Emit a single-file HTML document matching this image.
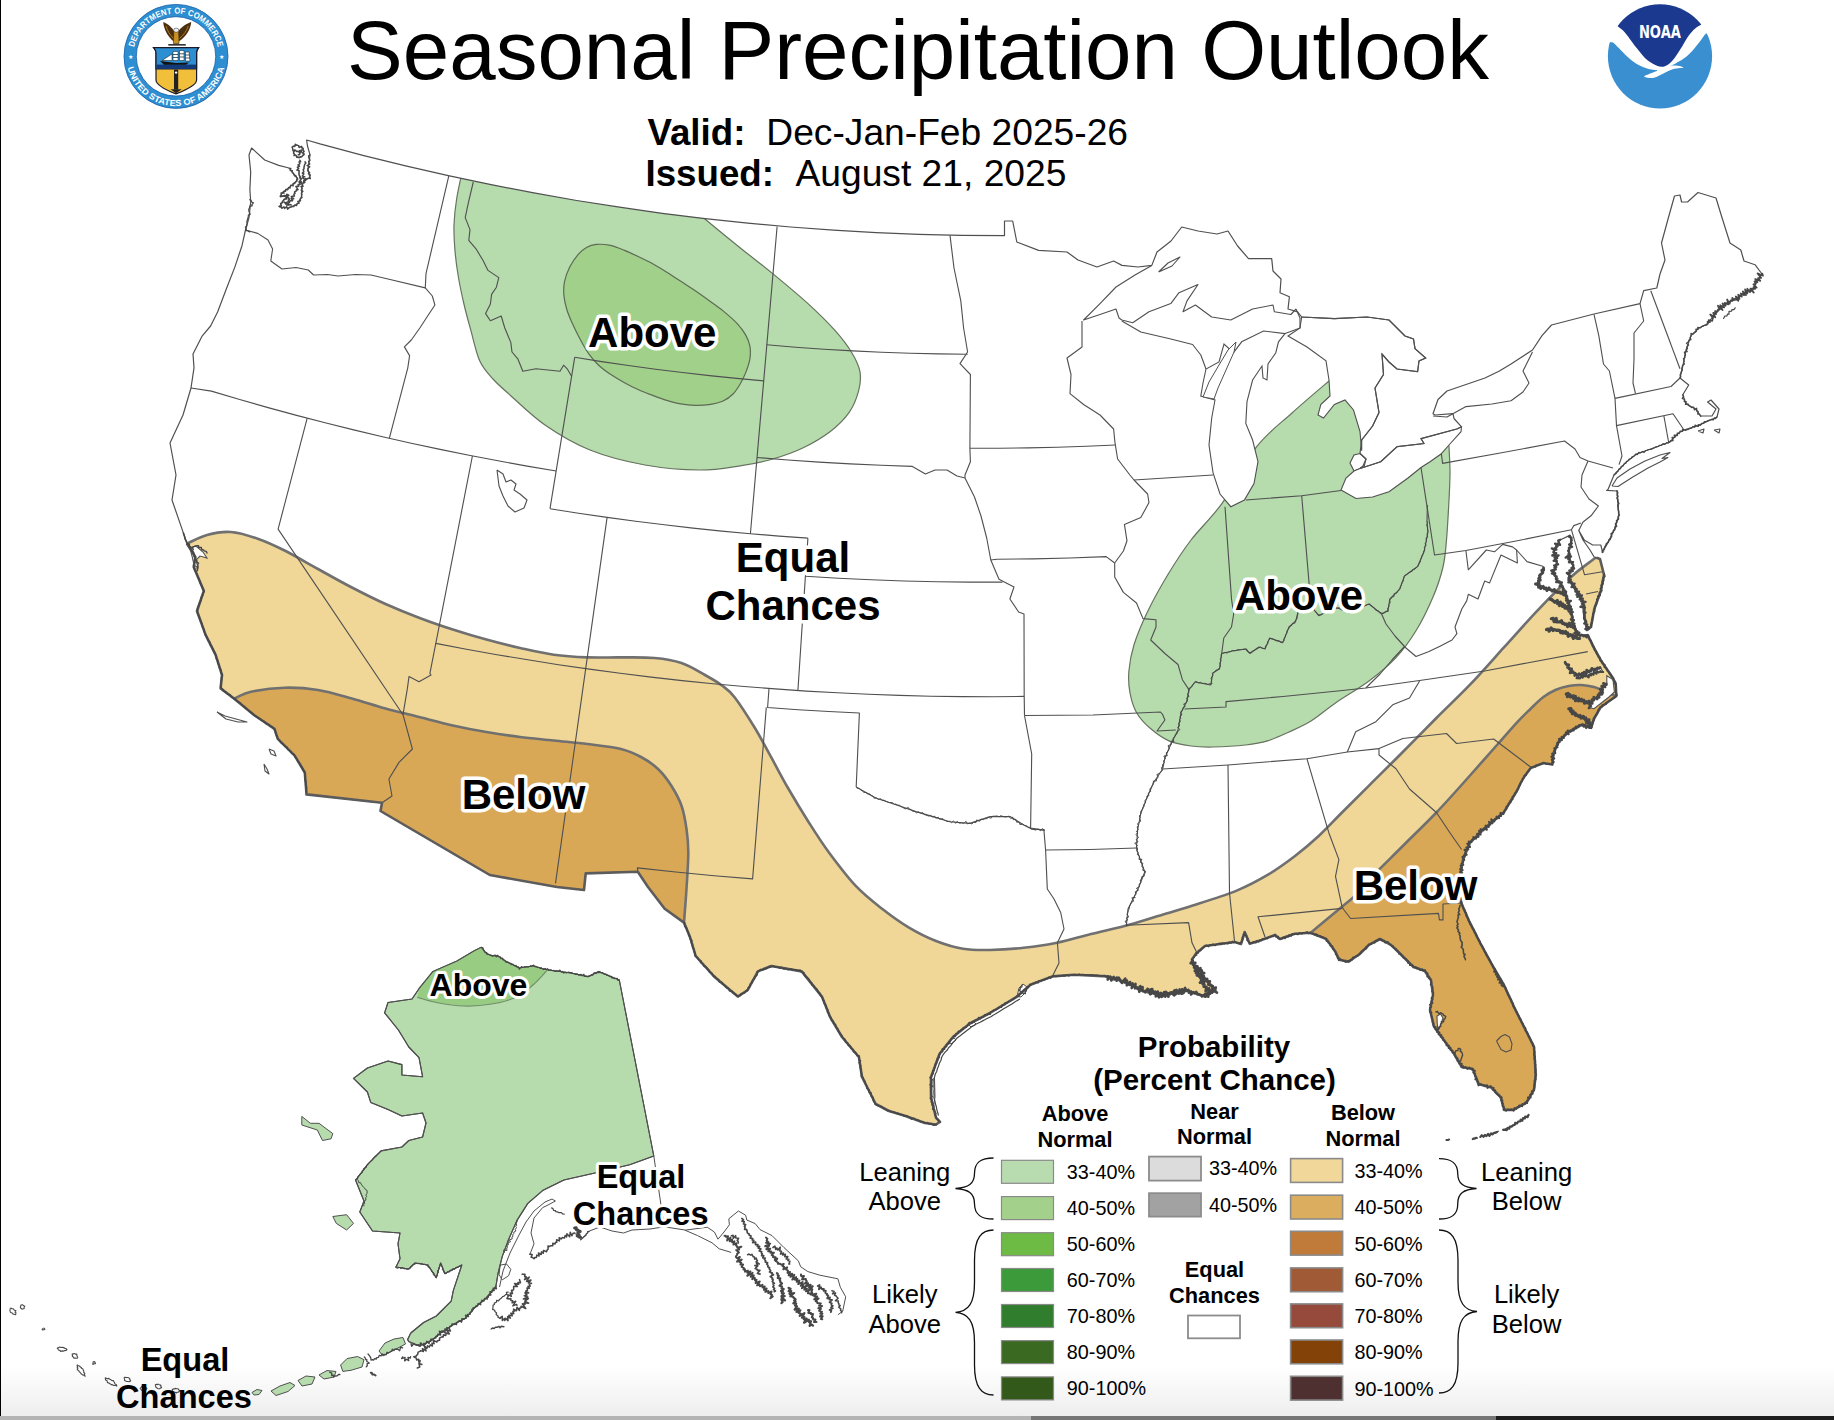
<!DOCTYPE html>
<html><head><meta charset="utf-8"><title>Seasonal Precipitation Outlook</title>
<style>html,body{margin:0;padding:0;background:#fff;}body{width:1834px;height:1420px;overflow:hidden;position:relative;font-family:"Liberation Sans",Arial,sans-serif}</style>
</head><body>
<svg width="1834" height="1420" viewBox="0 0 1834 1420" style="position:absolute;left:0;top:0;font-family:'Liberation Sans',Arial,sans-serif">
<defs>
<clipPath id="cl"><path d="M251.6,148 L264.7,160 L278.7,165.4 L289,168 L292.6,172.4 L297.9,179.3 L292.6,184.6 L282,193 L280.4,196.8 L289,195 L282,202 L279.5,207 L289,208 L297.9,203.8 L301.4,196.8 L302,186 L304.9,179 L310,178.5 L308,168.9 L310,154.9 L307.5,146 L306.6,140 L320,143.9 L362.8,155.3 L405.6,165.8 L448.3,175.6 L491.1,184.7 L533.9,192.9 L576.7,200.5 L619.5,207.2 L662.2,213.3 L705,218.6 L747.8,223.2 L790.6,227 L833.4,230.2 L876.2,232.6 L918.9,234.3 L961.7,235.3 L1004.5,235.6 L1004.5,221 L1012.7,221 L1016.8,242 L1038.6,250.4 L1067,252 L1078,260 L1097,267 L1113.6,261 L1122,265.4 L1138,267 L1151.8,265.4 L1157,252 L1171,241 L1181.7,227 L1198,231 L1217,234 L1228,231 L1237.6,246 L1248.5,258.6 L1271.7,258.6 L1273,271 L1281,279 L1280,292.7 L1289.4,296.8 L1288,309 L1297.6,311.8 L1301.7,317 L1334.4,318.6 L1367,317 L1389,320 L1405,336 L1413.5,339 L1415,348.6 L1425.7,358 L1419,361 L1417.6,371.7 L1397,369 L1389,362 L1382,354 L1383.5,374.5 L1375,388 L1379,412.6 L1372.6,426 L1361.7,440 L1360,453.5 L1366,459 L1363,466 L1360,468.5 L1380.7,461.7 L1397,446.7 L1424,443.5 L1421,438.6 L1456.8,429 L1461.5,426.8 L1454,418.5 L1453,413.7 L1435,415 L1433,413.7 L1438,399.5 L1447,391 L1485,378 L1499.4,371 L1511,364 L1532.5,350 L1542,335.6 L1551.5,325 L1594,314 L1640,303.7 L1643.7,290.7 L1656.8,288 L1660,274 L1665,260 L1661.5,243 L1668.6,217 L1674.5,196 L1680,195 L1681.6,202 L1687.5,202 L1698,192.5 L1716,198 L1721.8,217 L1730,243 L1740.8,250 L1744,261 L1755,264.7 L1762,274 L1757,281 L1752.6,290.7 L1744,293 L1736,300 L1728,302 L1719.5,309.6 L1714,315 L1707.6,323.8 L1699,328 L1691,335.6 L1686,350 L1682.8,366 L1680,378 L1688.7,385 L1682.8,394.8 L1686,404 L1695.8,409 L1700.5,416 L1712,416 L1716,409 L1707.6,402 L1711,400 L1719,409 L1717,417 L1698,425.6 L1684,430 L1679,432.7 L1669.8,442 L1650.8,449 L1636.6,454 L1624.8,463.4 L1614,475 L1608,489.5 L1606.6,490.4 L1617,491 L1618,502.7 L1618.8,515.8 L1614,530.5 L1607.4,543.6 L1602.5,551.8 L1600.8,545 L1592.7,545 L1584.5,540.3 L1578.8,530.5 L1583,540 L1590,550 L1594,556.7 L1600,559 L1604,574.7 L1600.8,591 L1594.3,609 L1591,627 L1587,630 L1584.5,617 L1582.8,600.9 L1576.3,591 L1568,578 L1573,564.9 L1568,555 L1571.4,543.6 L1569.8,535.4 L1560,540 L1553.4,550 L1556.7,561.6 L1553.4,574.7 L1560,582.9 L1564.9,591 L1568,600.9 L1571.4,612 L1573,623.8 L1578,635 L1587.8,635.2 L1594,647.9 L1601.7,661.8 L1610.6,674.5 L1615.7,683.4 L1616.3,696 L1609.3,701 L1600.4,707.5 L1594,718.9 L1591,727.8 L1581.4,725 L1568.7,731.6 L1558.6,741.7 L1553.5,753 L1552.3,764.5 L1543.4,763 L1530.7,768 L1523,778.5 L1516.8,791 L1503.7,812.5 L1483.5,829 L1470,842.8 L1463,859.6 L1460,876.4 L1461.7,904 L1469,920.8 L1480.2,943 L1491.3,963.4 L1504.3,985.7 L1515.4,1009.8 L1526.6,1032 L1534,1046.9 L1535.8,1074.7 L1534,1089.5 L1526.6,1102.5 L1513.6,1109.9 L1504.3,1109.9 L1500.6,1097 L1491.3,1087.6 L1478.4,1084 L1472.8,1069 L1461.7,1067 L1454.3,1054 L1443,1039 L1433.9,1026.5 L1430,1009.8 L1433,995 L1431,980 L1424.6,970.8 L1413.5,967 L1402.4,956 L1391,944.9 L1380,939 L1369,944.9 L1359.7,954 L1348.6,961.6 L1339,959.7 L1335.6,952 L1326.3,939 L1310.6,932.8 L1294.8,933.8 L1280,939 L1275,935 L1261.5,940 L1249.7,943.7 L1244.7,932 L1241,944 L1234.6,942 L1220,944 L1205,946 L1195.9,953.8 L1192,959.6 L1198.7,976 L1208,982 L1215.5,990 L1205.4,996.6 L1185,990 L1165,995 L1144.8,991.6 L1128,983 L1107.8,976.4 L1074,974.7 L1052.3,976.4 L1030.4,984.8 L1017,996.6 L990,1013 L969.9,1023.5 L953,1037 L939.6,1053.8 L931,1077 L931,1097.5 L936,1117.7 L940,1122 L935.8,1124.5 L925,1123 L904.8,1115.8 L889,1111 L875.7,1104 L862,1077 L858.9,1057 L842,1037 L830,1016.8 L821.9,996.6 L801.7,971.4 L771.4,966 L757.9,971.4 L747.8,990 L737.8,996.6 L714,976.4 L695.7,956 L690,937 L684,922.6 L664.7,908.8 L648,887 L637.8,871.7 L585.7,873.4 L584,890 L557,887 L489.8,875 L380.5,811 L382,802.8 L306.4,794.4 L306.4,792.7 L304.8,772.5 L294.7,755.7 L277.8,738.9 L274.5,728.8 L254,715 L234,698.5 L220.6,688.4 L222,675 L215.6,654.8 L205.5,634.6 L197,611 L203.8,590.8 L193.7,567 L195.4,557 L187,543.7 L183.6,533.6 L172,500 L176,475 L170,443 L183,415 L191,388 L194,367.8 L193,353.9 L201.9,336.4 L210.6,326 L217.6,312 L226.3,289 L235,266.6 L242,245.7 L245.5,230 L249,217.7 L250.7,202 L249.9,189.8 L250.7,172 L249,155.0Z"/></clipPath>
<clipPath id="ct1"><path d="M170.0,552.0 C172.8,550.6 180.8,546.5 187.0,543.7 C193.2,540.9 199.7,537.0 207.0,535.0 C214.3,533.0 222.2,531.4 230.7,532.0 C239.1,532.6 248.7,535.6 257.7,538.7 C266.7,541.8 274.6,545.5 284.6,550.5 C294.7,555.5 306.8,562.8 318.0,569.0 C329.2,575.2 340.6,581.7 351.9,587.5 C363.1,593.3 374.3,599.0 385.5,604.0 C396.7,609.0 407.8,613.5 419.0,617.7 C430.2,622.0 441.6,625.9 452.8,629.5 C464.0,633.1 475.2,636.5 486.4,639.6 C497.6,642.7 508.8,645.5 520.0,648.0 C531.2,650.5 542.5,653.2 553.7,654.8 C564.9,656.4 576.2,657.0 587.4,657.4 C598.6,657.8 609.8,657.3 621.0,657.4 C632.2,657.5 644.5,657.1 654.6,658.0 C664.7,658.9 673.1,660.2 681.5,663.0 C689.9,665.8 698.2,671.2 705.0,675.0 C711.8,678.8 717.1,681.8 722.0,685.5 C726.9,689.2 729.0,690.0 734.4,697.0 C739.8,704.0 748.4,717.4 754.6,727.5 C760.8,737.6 765.8,747.6 771.4,757.7 C777.0,767.8 781.8,777.3 788.0,788.0 C794.2,798.7 801.6,811.0 808.4,821.7 C815.2,832.4 820.8,841.4 828.6,852.0 C836.5,862.6 846.5,876.1 855.5,885.6 C864.5,895.1 873.5,902.0 882.4,909.0 C891.3,916.0 900.1,922.3 909.0,927.6 C917.9,932.9 927.0,937.5 936.0,941.0 C945.0,944.5 954.0,947.3 963.0,948.8 C972.0,950.3 979.9,950.2 990.0,950.0 C1000.1,949.8 1012.5,949.0 1023.7,947.8 C1034.9,946.6 1045.8,945.1 1057.0,942.8 C1068.2,940.5 1079.7,936.8 1091.0,934.0 C1102.3,931.2 1113.4,929.0 1124.6,926.0 C1135.8,923.0 1146.8,919.4 1158.0,916.0 C1169.2,912.6 1178.9,910.0 1192.0,905.8 C1205.1,901.6 1224.0,895.8 1236.7,890.6 C1249.4,885.4 1258.3,880.5 1268.0,874.7 C1277.7,868.9 1286.5,862.5 1295.0,856.0 C1303.5,849.5 1310.9,843.2 1318.7,836.0 C1326.5,828.8 1333.6,820.9 1342.0,812.5 C1350.4,804.1 1358.9,795.7 1369.0,785.6 C1379.1,775.5 1391.6,763.3 1402.8,752.0 C1414.0,740.7 1425.2,729.2 1436.4,718.0 C1447.6,706.8 1458.8,696.4 1470.0,684.7 C1481.2,673.0 1492.5,660.1 1503.7,647.7 C1514.9,635.4 1526.2,622.4 1537.4,610.6 C1548.6,598.8 1561.5,585.7 1571.0,577.0 C1580.5,568.3 1585.5,565.5 1594.5,558.5 C1603.5,551.5 1619.9,538.9 1625.0,535.0 L1720,535 L1720,1220 L100,1220 L100,552Z"/></clipPath>
<linearGradient id="bg" x1="0" y1="0" x2="0" y2="1"><stop offset="0" stop-color="#fff"/><stop offset="1" stop-color="#eeeeee"/></linearGradient>
</defs>
<rect width="1834" height="1420" fill="#fff"/>
<rect x="0" y="1366" width="1834" height="50" fill="url(#bg)"/>
<g clip-path="url(#cl)">
<path d="M463.0,168.0 C461.9,173.1 458.2,189.1 456.7,198.5 C455.2,207.9 454.3,216.0 454.0,224.7 C453.7,233.4 454.3,242.2 455.0,250.9 C455.7,259.6 456.9,268.3 458.4,277.0 C459.8,285.7 461.7,294.3 463.7,303.0 C465.7,311.7 467.9,319.8 470.6,329.4 C473.3,339.0 476.0,352.5 479.7,360.8 C483.4,369.1 487.9,373.3 493.0,379.0 C498.1,384.7 501.3,387.3 510.0,395.0 C518.7,402.7 531.7,415.8 545.0,425.0 C558.3,434.2 573.3,443.3 590.0,450.0 C606.7,456.7 626.7,461.7 645.0,465.0 C663.3,468.3 684.2,469.9 700.0,470.0 C715.8,470.1 727.9,467.6 740.0,465.8 C752.1,464.0 762.2,462.0 772.7,459.0 C783.2,456.0 793.2,452.6 802.7,448.0 C812.2,443.4 822.3,437.6 830.0,431.7 C837.7,425.8 844.2,419.4 849.0,412.6 C853.8,405.8 856.8,397.6 858.6,390.8 C860.4,384.0 861.1,378.2 860.0,371.8 C858.9,365.4 855.9,359.5 851.8,352.7 C847.7,345.9 842.7,339.1 835.4,330.9 C828.1,322.7 818.5,313.2 808.0,303.6 C797.5,294.1 784.0,282.9 772.7,273.6 C761.4,264.3 751.3,256.8 740.0,247.7 C728.7,238.6 713.7,226.4 705.0,219.0 C696.3,211.6 690.8,205.7 688.0,203.0Z" fill="#b6dbad" stroke="#66735f" stroke-width="1.2"/>
<path d="M596.3,244.4 C600.3,244.1 605.7,244.4 610.4,245.4 C615.1,246.4 619.8,248.5 624.5,250.4 C629.2,252.3 633.9,254.5 638.6,256.7 C643.3,258.9 648.0,261.1 652.7,263.7 C657.4,266.3 662.1,269.3 666.8,272.2 C671.5,275.1 676.1,278.2 680.8,281.3 C685.5,284.4 690.2,287.3 694.9,290.5 C699.6,293.7 704.3,297.0 709.0,300.4 C713.7,303.8 718.4,307.0 723.1,310.9 C727.8,314.8 733.5,319.6 737.2,323.6 C741.0,327.6 743.5,331.1 745.6,334.9 C747.7,338.6 749.2,342.1 749.9,346.1 C750.6,350.1 750.6,354.3 749.9,358.8 C749.2,363.3 747.2,368.7 745.6,372.9 C744.0,377.1 742.1,380.7 740.0,384.2 C737.9,387.7 735.8,391.2 733.0,394.0 C730.2,396.8 727.1,399.2 723.1,401.0 C719.1,402.8 713.7,403.9 709.0,404.6 C704.3,405.3 699.6,405.4 694.9,405.3 C690.2,405.2 685.5,404.7 680.8,403.9 C676.1,403.1 671.5,401.8 666.8,400.4 C662.1,399.0 657.4,397.2 652.7,395.4 C648.0,393.6 643.3,391.9 638.6,389.8 C633.9,387.7 629.2,385.3 624.5,382.7 C619.8,380.1 614.6,377.1 610.4,374.3 C606.2,371.5 602.7,369.1 599.2,365.8 C595.7,362.5 592.4,358.8 589.3,354.6 C586.2,350.4 583.6,345.7 580.8,340.5 C578.0,335.3 574.7,328.8 572.4,323.6 C570.1,318.4 568.2,314.2 566.8,309.5 C565.4,304.8 564.3,300.1 563.9,295.4 C563.5,290.7 563.6,286.0 564.6,281.3 C565.6,276.6 567.4,271.8 569.6,267.3 C571.8,262.9 575.2,257.9 578.0,254.6 C580.8,251.3 583.5,249.2 586.5,247.5 C589.5,245.8 592.3,244.8 596.3,244.4Z" fill="#a0d08a" stroke="#5d6b55" stroke-width="1.2"/>
<path d="M1329.0,381.0 C1322.8,386.3 1304.0,402.1 1292.0,413.0 C1280.0,423.9 1268.3,431.8 1256.7,446.7 C1245.1,461.6 1233.5,487.1 1222.6,502.6 C1211.6,518.1 1199.9,528.3 1191.0,540.0 C1182.1,551.7 1176.3,560.8 1169.0,572.8 C1161.7,584.8 1153.2,600.0 1147.4,612.0 C1141.6,624.0 1137.1,635.0 1134.0,644.8 C1130.9,654.6 1129.6,663.0 1128.9,671.0 C1128.2,679.0 1128.7,685.9 1130.0,692.8 C1131.3,699.7 1133.2,706.7 1136.5,712.5 C1139.8,718.3 1144.2,723.1 1149.6,727.8 C1155.0,732.5 1162.1,737.9 1169.0,740.9 C1175.9,743.9 1183.7,745.0 1191.0,746.0 C1198.3,747.0 1203.9,747.2 1213.0,747.0 C1222.1,746.8 1236.6,746.0 1245.7,745.0 C1254.8,744.0 1260.3,743.1 1267.5,740.9 C1274.7,738.7 1281.8,735.3 1289.0,732.0 C1296.2,728.7 1303.2,725.8 1311.0,721.0 C1318.8,716.2 1325.8,709.7 1335.5,703.0 C1345.2,696.3 1358.9,688.5 1369.0,681.0 C1379.1,673.5 1388.2,666.1 1396.0,657.7 C1403.8,649.3 1409.8,640.9 1416.0,630.8 C1422.2,620.7 1428.5,607.6 1433.0,597.0 C1437.5,586.4 1440.8,576.5 1443.0,567.0 C1445.2,557.5 1445.5,551.2 1446.5,540.0 C1447.5,528.8 1448.4,511.2 1449.0,500.0 C1449.6,488.8 1450.0,481.5 1450.0,472.6 C1450.0,463.7 1449.2,451.0 1449.0,446.7 L1447,436 L1425,420 L1390,395 L1360,372Z" fill="#b6dbad" stroke="#66735f" stroke-width="1.2"/>
<path d="M170.0,552.0 C172.8,550.6 180.8,546.5 187.0,543.7 C193.2,540.9 199.7,537.0 207.0,535.0 C214.3,533.0 222.2,531.4 230.7,532.0 C239.1,532.6 248.7,535.6 257.7,538.7 C266.7,541.8 274.6,545.5 284.6,550.5 C294.7,555.5 306.8,562.8 318.0,569.0 C329.2,575.2 340.6,581.7 351.9,587.5 C363.1,593.3 374.3,599.0 385.5,604.0 C396.7,609.0 407.8,613.5 419.0,617.7 C430.2,622.0 441.6,625.9 452.8,629.5 C464.0,633.1 475.2,636.5 486.4,639.6 C497.6,642.7 508.8,645.5 520.0,648.0 C531.2,650.5 542.5,653.2 553.7,654.8 C564.9,656.4 576.2,657.0 587.4,657.4 C598.6,657.8 609.8,657.3 621.0,657.4 C632.2,657.5 644.5,657.1 654.6,658.0 C664.7,658.9 673.1,660.2 681.5,663.0 C689.9,665.8 698.2,671.2 705.0,675.0 C711.8,678.8 717.1,681.8 722.0,685.5 C726.9,689.2 729.0,690.0 734.4,697.0 C739.8,704.0 748.4,717.4 754.6,727.5 C760.8,737.6 765.8,747.6 771.4,757.7 C777.0,767.8 781.8,777.3 788.0,788.0 C794.2,798.7 801.6,811.0 808.4,821.7 C815.2,832.4 820.8,841.4 828.6,852.0 C836.5,862.6 846.5,876.1 855.5,885.6 C864.5,895.1 873.5,902.0 882.4,909.0 C891.3,916.0 900.1,922.3 909.0,927.6 C917.9,932.9 927.0,937.5 936.0,941.0 C945.0,944.5 954.0,947.3 963.0,948.8 C972.0,950.3 979.9,950.2 990.0,950.0 C1000.1,949.8 1012.5,949.0 1023.7,947.8 C1034.9,946.6 1045.8,945.1 1057.0,942.8 C1068.2,940.5 1079.7,936.8 1091.0,934.0 C1102.3,931.2 1113.4,929.0 1124.6,926.0 C1135.8,923.0 1146.8,919.4 1158.0,916.0 C1169.2,912.6 1178.9,910.0 1192.0,905.8 C1205.1,901.6 1224.0,895.8 1236.7,890.6 C1249.4,885.4 1258.3,880.5 1268.0,874.7 C1277.7,868.9 1286.5,862.5 1295.0,856.0 C1303.5,849.5 1310.9,843.2 1318.7,836.0 C1326.5,828.8 1333.6,820.9 1342.0,812.5 C1350.4,804.1 1358.9,795.7 1369.0,785.6 C1379.1,775.5 1391.6,763.3 1402.8,752.0 C1414.0,740.7 1425.2,729.2 1436.4,718.0 C1447.6,706.8 1458.8,696.4 1470.0,684.7 C1481.2,673.0 1492.5,660.1 1503.7,647.7 C1514.9,635.4 1526.2,622.4 1537.4,610.6 C1548.6,598.8 1561.5,585.7 1571.0,577.0 C1580.5,568.3 1585.5,565.5 1594.5,558.5 C1603.5,551.5 1619.9,538.9 1625.0,535.0 L1720,535 L1720,1220 L100,1220 L100,552Z" fill="#f0d798" stroke="#707070" stroke-width="2.6"/>
<path d="M215.0,706.0 C218.2,704.8 228.0,700.9 234.0,698.5 C240.0,696.1 242.6,693.6 251.0,691.8 C259.4,690.0 273.4,688.0 284.6,687.7 C295.8,687.4 306.8,688.2 318.0,690.0 C329.2,691.8 340.6,695.4 351.9,698.5 C363.1,701.6 374.3,705.5 385.5,708.6 C396.7,711.7 407.8,714.2 419.0,717.0 C430.2,719.8 441.6,722.9 452.8,725.4 C464.0,727.9 475.2,730.1 486.4,732.0 C497.6,733.9 508.8,735.6 520.0,737.0 C531.2,738.4 542.5,739.3 553.7,740.5 C564.9,741.7 576.2,742.6 587.4,744.0 C598.6,745.4 612.1,746.8 621.0,749.0 C629.9,751.2 634.8,753.7 641.0,757.0 C647.2,760.3 652.9,764.2 658.0,769.0 C663.1,773.8 667.6,779.8 671.5,786.0 C675.4,792.2 679.1,798.7 681.6,806.0 C684.1,813.3 685.5,821.9 686.6,829.7 C687.7,837.5 688.3,843.5 688.3,853.0 C688.3,862.5 687.3,875.4 686.6,887.0 C685.9,898.6 684.8,912.1 684.0,922.6 C683.2,933.1 682.3,945.4 682.0,950.0 L682,980 L180,980 L180,706Z" fill="#d9a857" stroke="#707070" stroke-width="2.6"/>
<path d="M1298.0,944.0 C1300.1,942.1 1303.3,939.0 1310.6,932.8 C1317.9,926.6 1334.8,912.7 1342.0,906.7 C1349.2,900.7 1349.5,901.2 1354.0,896.7 C1358.5,892.2 1360.9,888.2 1369.0,879.8 C1377.1,871.3 1391.6,857.2 1402.8,846.0 C1414.0,834.8 1425.2,824.2 1436.4,812.5 C1447.6,800.8 1459.9,786.8 1470.0,775.5 C1480.1,764.2 1489.0,754.0 1497.0,745.0 C1505.0,736.0 1512.4,727.4 1518.0,721.4 C1523.6,715.4 1526.5,712.8 1530.7,708.7 C1534.9,704.6 1539.2,700.2 1543.4,697.0 C1547.6,693.8 1551.8,691.5 1556.0,689.7 C1560.2,687.9 1564.5,686.8 1568.7,686.0 C1572.9,685.2 1577.2,684.8 1581.4,685.0 C1585.6,685.2 1590.2,686.0 1594.0,687.0 C1597.8,688.0 1598.8,688.8 1604.0,691.0 C1609.2,693.2 1621.5,698.5 1625.0,700.0 L1660,700 L1660,1220 L1298,1220Z" fill="#d9a857" stroke="#707070" stroke-width="2.6"/>
</g>
<path d="M1285,333.6 L1263.5,331 L1241.7,341.8 L1233.5,352.7 L1224,344 L1219,362 L1206,369 L1203,383 L1200.8,396 L1215,400 L1211.7,418 L1209,445 L1213,472.6 L1220,494 L1230.8,506.7 L1244.4,500 L1254,483.5 L1258,461.7 L1252.6,440 L1245.8,423.5 L1247,401.7 L1252.6,380 L1262,366 L1263,378 L1267,380 L1268,364 L1275.8,352.7 L1278.5,341.8Z" fill="#fff" stroke="#505050" stroke-width="1.1"/>
<path d="M1288,336 L1307,347 L1326,360.8 L1329,380 L1330,396 L1320.8,404.5 L1318,415 L1323.5,418 L1334.4,404.5 L1345,400 L1353.5,410 L1360,431.7 L1361.7,450.8 L1361.7,440 L1372.6,426 L1379,412.6 L1375,388 L1383.5,374.5 L1382,354 L1389,362 L1397,369 L1417.6,371.7 L1419,361 L1425.7,358 L1415,348.6 L1413.5,339 L1405,336 L1389,320 L1367,317 L1334.4,318.6 L1301.7,317 L1300,328.0Z" fill="#fff" stroke="#505050" stroke-width="1.1"/>
<path d="M1360,453.5 L1366,459 L1364,467 L1354,471 L1350,463 L1354,455.0Z" fill="#fff" stroke="#505050" stroke-width="1.1"/>
<path d="M1341,490 L1346,478 L1354,471 L1360,468.5 L1380.7,461.7 L1397,446.7 L1424,443.5 L1421,438.6 L1456.8,429 L1461.5,426.8 L1461,431.7 L1449,445 L1441,454 L1430,461.7 L1421,467.5 L1408,478 L1389,491.7 L1372.6,497 L1356,498.5Z" fill="#fff" stroke="#505050" stroke-width="1.1"/>
<path d="M1576.4,675.8 L1585,673 L1594,668.8 L1600.5,667.5 L1603,672 L1596.7,672 L1588,675.8 L1576.4,678.3Z" fill="#fff" stroke="#505050" stroke-width="1.1"/>
<path d="M1606.8,675.8 L1613,679.6 L1614.4,692 L1609,697 L1600.4,703.7 L1594,708.7 L1589,707.5 L1590,702 L1599,696 L1601.7,688.5 L1606.8,683.4Z" fill="#fff" stroke="#505050" stroke-width="1.1"/>
<path d="M190,548 L196,546 L203,552 L207,558 L200,556 L196,560 L198,568 L194,565 L192,556.0Z" fill="#fff" stroke="#505050" stroke-width="1.1"/>
<path d="M1437,1016 L1440.5,1014 L1443,1018 L1440.5,1025 L1438,1030 L1437.2,1023.0Z" fill="#fff" stroke="#505050" stroke-width="1.1"/>
<path d="M1203,397 L1209,382 L1219,365 L1228,350 L1236,342 L1234,352 L1226,370 L1218,388 L1214,399.0Z" fill="#fff" stroke="#505050" stroke-width="1"/>
<path d="M1017,996.6 L1019,988 L1023,984 L1027,987 L1025,993 L1021,997.0Z" fill="#fff" stroke="#505050" stroke-width="1"/>
<path d="M968,1024 L973,1021 L976,1024 L971,1027.0Z" fill="#fff" stroke="#505050" stroke-width="1"/>
<path d="M949,1041 L953,1037 L956,1040 L951,1044.0Z" fill="#fff" stroke="#505050" stroke-width="1"/>
<path d="M932,1080 L934.5,1078 L935,1097 L933,1110 L931.5,1097.0Z" fill="#fff" stroke="#505050" stroke-width="1"/>
<g fill="none" stroke="#505050" stroke-width="1.12" stroke-linejoin="round">
<path d="M245.5,230 L257.7,233.4 L268,240 L272.6,249 L270.8,261 L282,269 L296,267.5 L308.3,270 L313.6,275 L327.5,274.5 L338,276 L355.5,274.5 L371,275 L386.9,278.8 L425.3,287.9"/>
<path d="M448.8,175.8 L426,273.6 L425.3,287.9 L432.3,296 L434.9,305 L427,317 L420,327.7 L411.3,340 L404.4,346.9 L409.6,355.6 L407.8,367.8 L389.3,438.3"/>
<path d="M191,388 L211.4,391.1 L239.7,399.5 L268.1,407.6 L296.6,415.4 L325.1,422.8 L353.7,429.9 L382.5,436.8 L411.2,443.3 L440.1,449.4 L469,455.3 L498,460.8 L527.1,466.1 L556.2,471.0"/>
<path d="M307.2,418.2 L278.1,529.1 L403,714.7"/>
<path d="M472.4,456 L435.8,643.4 L429.9,673.4 L431,675 L419,681.7 L409,676.6 L407.4,688.4 L403,714.7 L412.4,749 L399,762.4 L388.9,779 L392,796 L382,802.8"/>
<path d="M473.3,182 L468.8,200.8 L465.2,217.6 L470,229.6 L468.8,240.4 L476,248.8 L483.2,260.8 L488,270.4 L498.8,277.6 L496.4,287.2 L491.6,294.4 L490.4,304 L485.6,313.6 L490.4,320.8 L501.2,316 L504.8,328 L510.8,342.4 L512,352 L518,359.2 L522.8,371.2 L536,368.8 L548,370 L560,371.2 L563.6,365.2 L567.2,368.8 L571.6,376.3"/>
<path d="M574.7,357.3 L550,508.7"/>
<path d="M574.7,357.3 L601.6,361.6 L628.5,365.5 L655.5,369.2 L682.5,372.5 L709.5,375.6 L736.6,378.4 L763.7,380.9"/>
<path d="M550,508.7 L578.5,513.2 L607.1,517.4 L635.7,521.3 L664.3,524.8 L693,528.1 L721.7,531.1 L750.4,533.7 L779.1,536.1 L807.9,538.1"/>
<path d="M777.1,226.6 L763.7,380.9 L750.4,533.7"/>
<path d="M607.1,517.4 L585.7,668.6 L555.5,883.3"/>
<path d="M435.8,643.4 L466.4,649.2 L497,654.7 L527.8,659.8 L558.5,664.7 L589.4,669.1 L620.2,673.3 L651.2,677.1 L682.1,680.6 L713.1,683.7 L744.1,686.5 L775.2,688.9 L806.3,691.1 L837.4,692.8 L868.5,694.3 L899.6,695.4 L930.8,696.2 L961.9,696.6 L993.1,696.7 L1024.2,696.4"/>
<path d="M807.9,538.1 L805.4,576.3 L797.9,690.5"/>
<path d="M805.4,576.3 L838.2,578.2 L871.1,579.8 L903.9,581 L936.8,581.8 L969.6,582.1 L1002.5,582.1"/>
<path d="M766.8,344.8 L795.5,347.2 L824.1,349.2 L852.8,350.9 L881.5,352.2 L910.2,353.2 L938.9,353.9 L967.6,354.3"/>
<path d="M757,457.5 L788,460 L819.1,462.1 L850.2,463.9 L881.3,465.3 L912.4,466.4 L925.4,474 L935,470 L947,470 L957,476 L965,478.0"/>
<path d="M769,688.5 L767.6,707.5 L767.6,707.5 L798.2,709.7 L828.8,711.5 L859.4,713 L856.2,787.0"/>
<path d="M766.3,707.4 L752.6,878.9 L714.2,875.7 L675.8,872 L637.4,867.9 L637.8,871.7"/>
<path d="M856.2,787 L875.7,798 L895.9,804.8 L916,811.6 L932.9,816.6 L949.7,821.7 L969.9,823.4 L990,816.6 L1010,816.6 L1023.7,825 L1031.7,829 L1043.9,830 L1045.6,850.0"/>
<path d="M950,235.4 L954,268 L960.8,300.9 L963.6,328 L967.6,352 L960,363.6 L970.4,374.5 L969.9,448.2 L970.4,461.7 L965,475 L965,478.0"/>
<path d="M969.9,448.2 L999.1,448.2 L1028.2,447.9 L1057.3,447.3 L1086.4,446.3 L1115.5,445.0"/>
<path d="M965,478 L974.5,497 L981,516 L986.7,538 L990.8,560 L999,579.3 L1014,587 L1009.9,599 L1018.6,612 L1024,614 L1024.2,696.4 L1024.5,715.5"/>
<path d="M990.8,560 L996.8,559.2 L1033.3,558.9 L1069.7,558 L1106.2,556.6 L1114.7,563.0"/>
<path d="M1082,321 L1082,347 L1067,358 L1071,374.5 L1070,393.6 L1083.6,404.5 L1100,415 L1113.6,429 L1114.9,442 L1117.6,459 L1129.9,475 L1134,480 L1147.6,494 L1149,502.6 L1140.8,517.6 L1124.4,524.4 L1127,540.8 L1123.4,551 L1114.7,563 L1114.7,577 L1123.4,592.4 L1136.5,603 L1143,618.6 L1156,619.7 L1156,627 L1150.7,640 L1164.9,653.5 L1178,664.5 L1182.4,679.7 L1188.9,689.6 L1186.7,701.6 L1181,712.5 L1178,730 L1171.4,743 L1164.9,758 L1162.7,769 L1154,782 L1147,797.6 L1140.9,813 L1137.6,830 L1136.4,848.6 L1144.8,872 L1138,889 L1128,909 L1126.3,926.0"/>
<path d="M1134,480 L1213,475.0"/>
<path d="M1121.8,321 L1140.8,332 L1170.8,339 L1192.6,344.5 L1200.8,355 L1206,369.0"/>
<path d="M1225,506.7 L1231.5,599 L1233.7,614 L1231.5,627 L1223.8,638 L1221.7,653.5"/>
<path d="M1427.4,505 L1427,521 L1428,532 L1424,551.8 L1417.6,566.5 L1404.5,576 L1399.6,589.4 L1389.8,599 L1388,610.7 L1381.6,614 L1369,604 L1349,612.3 L1335.5,607.3 L1318.7,615.7 L1311,606 L1298,612 L1295.9,620.8 L1289,627 L1282.8,642.6 L1269.7,638 L1265,649 L1258.8,647 L1250,653.5 L1245.7,649 L1232.6,651 L1221.7,653.5 L1219.5,668.8 L1213,673 L1210.7,685 L1195,682 L1189,689.6"/>
<path d="M1301.7,495.8 L1311,606.0"/>
<path d="M1245.8,500 L1301.7,495.8 L1341,490.5"/>
<path d="M1381.6,614 L1386,624 L1395,636 L1404.5,646.5 L1392,660 L1380,674 L1365.8,688.0"/>
<path d="M1184.5,709 L1226,707 L1226,701.6 L1283,696.5 L1340,690.7 L1365.8,688 L1419.6,680.5 L1484.7,671 L1527,663 L1587.8,651.6"/>
<path d="M1024.5,715.5 L1093,715 L1160.5,712 L1162.7,714.7 L1164.9,720 L1157,731 L1175.8,730.0"/>
<path d="M1024.5,715.5 L1031.7,754 L1030.6,828 L1044.8,830.4"/>
<path d="M1045.6,850 L1090,849.5 L1136.4,848.0"/>
<path d="M1045.6,850 L1047.3,889 L1054,899 L1060.7,912.5 L1064,929 L1057.4,942.8 L1059,963 L1052.3,976.4"/>
<path d="M1126.3,925.3 L1188.6,922.6 L1192,942.8 L1197,953.0"/>
<path d="M1162.7,769 L1228,765 L1306.9,758.7 L1347.3,752 L1379,748.6"/>
<path d="M1228,765 L1229.5,893 L1234.6,942.0"/>
<path d="M1306.9,758.7 L1328.8,832.7 L1338.9,859.6 L1335.5,876.4 L1342,906.7 L1344,910.0"/>
<path d="M1265,937 L1258,916.8 L1342,908.4"/>
<path d="M1344,910 L1350.6,918.5 L1438.5,913.4 L1439.4,919.9 L1443,919.9 L1443,904 L1460.8,903.0"/>
<path d="M1379,748.6 L1379,755 L1396,768.8 L1409.5,789 L1436.4,812.5 L1449.9,832.7 L1461.6,849.5"/>
<path d="M1379,748.6 L1402.8,738.5 L1446.5,733.5 L1456.6,743.5 L1493.6,739 L1530.6,767.0"/>
<path d="M1347.3,752 L1355.7,731.8 L1375.9,721.7 L1392.7,704.8 L1409.5,698 L1419.6,681.0"/>
<path d="M1404.5,646.7 L1416,656.5 L1429,651.6 L1440.5,645.9 L1452,640 L1456.9,633.6 L1455,627 L1461.8,609 L1466.7,600.9 L1468.3,594.3 L1478,599 L1484.7,581 L1489.6,582.9 L1501,555 L1517.4,563 L1516.6,550.0"/>
<path d="M1421,467.5 L1434.5,555 L1465.9,550.5 L1516,541 L1571.4,529.7"/>
<path d="M1465.9,550.5 L1468.3,569.8 L1486.3,550 L1494.5,551.8 L1502.7,544.4 L1512.5,546.9 L1516.6,550 L1527,561.6 L1543.6,566.5"/>
<path d="M1581,523 L1573.8,525.6 L1571.4,529.7 L1584.5,574.7 L1604,571.5"/>
<path d="M1586,594 L1598,591.5"/>
<path d="M1588,461 L1582,475 L1581,487 L1589,499 L1598.4,506 L1591,515.8 L1582.8,522.3 L1578.8,530.5"/>
<path d="M1441.4,454 L1442.6,463.4 L1503,452.5 L1564.5,441 L1575,449 L1580,457.5 L1588,461 L1613,468.0"/>
<path d="M1594,314.4 L1598.8,335.6 L1603.5,364 L1609.4,371 L1615,398.4 L1616.5,425.6 L1622,456 L1619,464.6"/>
<path d="M1640,303.7 L1643.7,321 L1634,333 L1634,359 L1633,383 L1635.5,393.6"/>
<path d="M1650.8,290.7 L1680,368.8"/>
<path d="M1615,398.4 L1671,386.5 L1680,378.0"/>
<path d="M1616.5,425.6 L1673,413.7 L1684,430.0"/>
<path d="M1663.9,416 L1668.6,442.0"/>
<path d="M1151.8,265.4 L1135,275 L1116,287 L1100,303.6 L1083.6,320 L1100,314.5 L1116,309 L1119,318 L1121.8,320 L1132.7,322.7 L1149,311.8 L1170.8,303.6 L1179,292.7 L1198,284.5 L1187,300.9 L1183,311.8 L1195.4,305 L1211.7,317 L1230.8,320 L1252.6,309 L1273,305 L1274.4,311.8 L1290.8,314.5 L1296,309.0"/>
<path d="M1296,309 L1300,318 L1300,328 L1292,331 L1285,333.6"/>
<path d="M1158.6,272 L1168,263 L1180,257 L1172,266 L1158.6,272.0"/>
<path d="M1433,416 L1447,417 L1466,406.6 L1492,404 L1511,400.7 L1523,392 L1529,383 L1523,371 L1532.5,352.0"/>
<path d="M1612,486 L1617,478 L1630,469 L1645,461 L1660,455 L1670,452.5 L1662,458.5 L1668,457.5 L1660,462 L1648,468 L1632,477.5 L1618,486.5 L1612,486.0"/>
<path d="M1698,431 L1704,429 L1703,433 L1698,431.0"/>
<path d="M1714,430 L1720,429 L1719,433 L1714,430.0"/>
<path d="M1496.5,1041 L1501,1036.5 L1505,1034.5 L1509.5,1037 L1512,1044 L1511,1050 L1506,1052 L1501,1049.5 L1496.5,1041.0"/>
<path d="M497,470 L503,474 L506,482 L511,480 L516,484 L514,490 L520,494 L527,500 L524,508 L515,512 L508,506 L503,496 L499,486 L497,470.0"/>
<path d="M217,712 L225,716 L236,719 L247,722 L238,722 L226,719 L217,712.0"/>
<path d="M269,749 L274,751 L276,756 L271,754 L269,749.0"/>
<path d="M264,764 L267,769 L269,774 L265,771 L264,764.0"/>
<path d="M292,147 L297,145 L303,148 L304,155 L299,158 L294,154 L292,147.0"/>
<path d="M1528.4,1115 L1520,1121.0"/>
<path d="M1514,1125 L1505,1129.0"/>
<path d="M1499,1131 L1488,1135.0"/>
<path d="M1478,1138 L1474,1139.0"/>
<path d="M1449,1139.5 L1446,1140.0"/>
</g>
<path d="M251.6,148 L264.7,160 L278.7,165.4 L289,168 L292.6,172.4 L297.9,179.3 L292.6,184.6 L282,193 L280.4,196.8 L289,195 L282,202 L279.5,207 L289,208 L297.9,203.8 L301.4,196.8 L302,186 L304.9,179 L310,178.5 L308,168.9 L310,154.9 L307.5,146 L306.6,140 L320,143.9 L362.8,155.3 L405.6,165.8 L448.3,175.6 L491.1,184.7 L533.9,192.9 L576.7,200.5 L619.5,207.2 L662.2,213.3 L705,218.6 L747.8,223.2 L790.6,227 L833.4,230.2 L876.2,232.6 L918.9,234.3 L961.7,235.3 L1004.5,235.6 L1004.5,221 L1012.7,221 L1016.8,242 L1038.6,250.4 L1067,252 L1078,260 L1097,267 L1113.6,261 L1122,265.4 L1138,267 L1151.8,265.4 L1157,252 L1171,241 L1181.7,227 L1198,231 L1217,234 L1228,231 L1237.6,246 L1248.5,258.6 L1271.7,258.6 L1273,271 L1281,279 L1280,292.7 L1289.4,296.8 L1288,309 L1297.6,311.8 L1301.7,317 L1334.4,318.6 L1367,317 L1389,320 L1405,336 L1413.5,339 L1415,348.6 L1425.7,358 L1419,361 L1417.6,371.7 L1397,369 L1389,362 L1382,354 L1383.5,374.5 L1375,388 L1379,412.6 L1372.6,426 L1361.7,440 L1360,453.5 L1366,459 L1363,466 L1360,468.5 L1380.7,461.7 L1397,446.7 L1424,443.5 L1421,438.6 L1456.8,429 L1461.5,426.8 L1454,418.5 L1453,413.7 L1435,415 L1433,413.7 L1438,399.5 L1447,391 L1485,378 L1499.4,371 L1511,364 L1532.5,350 L1542,335.6 L1551.5,325 L1594,314 L1640,303.7 L1643.7,290.7 L1656.8,288 L1660,274 L1665,260 L1661.5,243 L1668.6,217 L1674.5,196 L1680,195 L1681.6,202 L1687.5,202 L1698,192.5 L1716,198 L1721.8,217 L1730,243 L1740.8,250 L1744,261 L1755,264.7 L1762,274 L1757,281 L1752.6,290.7 L1744,293 L1736,300 L1728,302 L1719.5,309.6 L1714,315 L1707.6,323.8 L1699,328 L1691,335.6 L1686,350 L1682.8,366 L1680,378 L1688.7,385 L1682.8,394.8 L1686,404 L1695.8,409 L1700.5,416 L1712,416 L1716,409 L1707.6,402 L1711,400 L1719,409 L1717,417 L1698,425.6 L1684,430 L1679,432.7 L1669.8,442 L1650.8,449 L1636.6,454 L1624.8,463.4 L1614,475 L1608,489.5 L1606.6,490.4 L1617,491 L1618,502.7 L1618.8,515.8 L1614,530.5 L1607.4,543.6 L1602.5,551.8 L1600.8,545 L1592.7,545 L1584.5,540.3 L1578.8,530.5 L1583,540 L1590,550 L1594,556.7 L1600,559 L1604,574.7 L1600.8,591 L1594.3,609 L1591,627 L1587,630 L1584.5,617 L1582.8,600.9 L1576.3,591 L1568,578 L1573,564.9 L1568,555 L1571.4,543.6 L1569.8,535.4 L1560,540 L1553.4,550 L1556.7,561.6 L1553.4,574.7 L1560,582.9 L1564.9,591 L1568,600.9 L1571.4,612 L1573,623.8 L1578,635 L1587.8,635.2 L1594,647.9 L1601.7,661.8 L1610.6,674.5 L1615.7,683.4 L1616.3,696 L1609.3,701 L1600.4,707.5 L1594,718.9 L1591,727.8 L1581.4,725 L1568.7,731.6 L1558.6,741.7 L1553.5,753 L1552.3,764.5 L1543.4,763 L1530.7,768 L1523,778.5 L1516.8,791 L1503.7,812.5 L1483.5,829 L1470,842.8 L1463,859.6 L1460,876.4 L1461.7,904 L1469,920.8 L1480.2,943 L1491.3,963.4 L1504.3,985.7 L1515.4,1009.8 L1526.6,1032 L1534,1046.9 L1535.8,1074.7 L1534,1089.5 L1526.6,1102.5 L1513.6,1109.9 L1504.3,1109.9 L1500.6,1097 L1491.3,1087.6 L1478.4,1084 L1472.8,1069 L1461.7,1067 L1454.3,1054 L1443,1039 L1433.9,1026.5 L1430,1009.8 L1433,995 L1431,980 L1424.6,970.8 L1413.5,967 L1402.4,956 L1391,944.9 L1380,939 L1369,944.9 L1359.7,954 L1348.6,961.6 L1339,959.7 L1335.6,952 L1326.3,939 L1310.6,932.8 L1294.8,933.8 L1280,939 L1275,935 L1261.5,940 L1249.7,943.7 L1244.7,932 L1241,944 L1234.6,942 L1220,944 L1205,946 L1195.9,953.8 L1192,959.6 L1198.7,976 L1208,982 L1215.5,990 L1205.4,996.6 L1185,990 L1165,995 L1144.8,991.6 L1128,983 L1107.8,976.4 L1074,974.7 L1052.3,976.4 L1030.4,984.8 L1017,996.6 L990,1013 L969.9,1023.5 L953,1037 L939.6,1053.8 L931,1077 L931,1097.5 L936,1117.7 L940,1122 L935.8,1124.5 L925,1123 L904.8,1115.8 L889,1111 L875.7,1104 L862,1077 L858.9,1057 L842,1037 L830,1016.8 L821.9,996.6 L801.7,971.4 L771.4,966 L757.9,971.4 L747.8,990 L737.8,996.6 L714,976.4 L695.7,956 L690,937 L684,922.6 L664.7,908.8 L648,887 L637.8,871.7 L585.7,873.4 L584,890 L557,887 L489.8,875 L380.5,811 L382,802.8 L306.4,794.4 L306.4,792.7 L304.8,772.5 L294.7,755.7 L277.8,738.9 L274.5,728.8 L254,715 L234,698.5 L220.6,688.4 L222,675 L215.6,654.8 L205.5,634.6 L197,611 L203.8,590.8 L193.7,567 L195.4,557 L187,543.7 L183.6,533.6 L172,500 L176,475 L170,443 L183,415 L191,388 L194,367.8 L193,353.9 L201.9,336.4 L210.6,326 L217.6,312 L226.3,289 L235,266.6 L242,245.7 L245.5,230 L249,217.7 L250.7,202 L249.9,189.8 L250.7,172 L249,155.0Z" fill="none" stroke="#505050" stroke-width="1.2" stroke-linejoin="round"/>
<g clip-path="url(#ct1)"><path d="M251.6,148 L264.7,160 L278.7,165.4 L289,168 L292.6,172.4 L297.9,179.3 L292.6,184.6 L282,193 L280.4,196.8 L289,195 L282,202 L279.5,207 L289,208 L297.9,203.8 L301.4,196.8 L302,186 L304.9,179 L310,178.5 L308,168.9 L310,154.9 L307.5,146 L306.6,140 L320,143.9 L362.8,155.3 L405.6,165.8 L448.3,175.6 L491.1,184.7 L533.9,192.9 L576.7,200.5 L619.5,207.2 L662.2,213.3 L705,218.6 L747.8,223.2 L790.6,227 L833.4,230.2 L876.2,232.6 L918.9,234.3 L961.7,235.3 L1004.5,235.6 L1004.5,221 L1012.7,221 L1016.8,242 L1038.6,250.4 L1067,252 L1078,260 L1097,267 L1113.6,261 L1122,265.4 L1138,267 L1151.8,265.4 L1157,252 L1171,241 L1181.7,227 L1198,231 L1217,234 L1228,231 L1237.6,246 L1248.5,258.6 L1271.7,258.6 L1273,271 L1281,279 L1280,292.7 L1289.4,296.8 L1288,309 L1297.6,311.8 L1301.7,317 L1334.4,318.6 L1367,317 L1389,320 L1405,336 L1413.5,339 L1415,348.6 L1425.7,358 L1419,361 L1417.6,371.7 L1397,369 L1389,362 L1382,354 L1383.5,374.5 L1375,388 L1379,412.6 L1372.6,426 L1361.7,440 L1360,453.5 L1366,459 L1363,466 L1360,468.5 L1380.7,461.7 L1397,446.7 L1424,443.5 L1421,438.6 L1456.8,429 L1461.5,426.8 L1454,418.5 L1453,413.7 L1435,415 L1433,413.7 L1438,399.5 L1447,391 L1485,378 L1499.4,371 L1511,364 L1532.5,350 L1542,335.6 L1551.5,325 L1594,314 L1640,303.7 L1643.7,290.7 L1656.8,288 L1660,274 L1665,260 L1661.5,243 L1668.6,217 L1674.5,196 L1680,195 L1681.6,202 L1687.5,202 L1698,192.5 L1716,198 L1721.8,217 L1730,243 L1740.8,250 L1744,261 L1755,264.7 L1762,274 L1757,281 L1752.6,290.7 L1744,293 L1736,300 L1728,302 L1719.5,309.6 L1714,315 L1707.6,323.8 L1699,328 L1691,335.6 L1686,350 L1682.8,366 L1680,378 L1688.7,385 L1682.8,394.8 L1686,404 L1695.8,409 L1700.5,416 L1712,416 L1716,409 L1707.6,402 L1711,400 L1719,409 L1717,417 L1698,425.6 L1684,430 L1679,432.7 L1669.8,442 L1650.8,449 L1636.6,454 L1624.8,463.4 L1614,475 L1608,489.5 L1606.6,490.4 L1617,491 L1618,502.7 L1618.8,515.8 L1614,530.5 L1607.4,543.6 L1602.5,551.8 L1600.8,545 L1592.7,545 L1584.5,540.3 L1578.8,530.5 L1583,540 L1590,550 L1594,556.7 L1600,559 L1604,574.7 L1600.8,591 L1594.3,609 L1591,627 L1587,630 L1584.5,617 L1582.8,600.9 L1576.3,591 L1568,578 L1573,564.9 L1568,555 L1571.4,543.6 L1569.8,535.4 L1560,540 L1553.4,550 L1556.7,561.6 L1553.4,574.7 L1560,582.9 L1564.9,591 L1568,600.9 L1571.4,612 L1573,623.8 L1578,635 L1587.8,635.2 L1594,647.9 L1601.7,661.8 L1610.6,674.5 L1615.7,683.4 L1616.3,696 L1609.3,701 L1600.4,707.5 L1594,718.9 L1591,727.8 L1581.4,725 L1568.7,731.6 L1558.6,741.7 L1553.5,753 L1552.3,764.5 L1543.4,763 L1530.7,768 L1523,778.5 L1516.8,791 L1503.7,812.5 L1483.5,829 L1470,842.8 L1463,859.6 L1460,876.4 L1461.7,904 L1469,920.8 L1480.2,943 L1491.3,963.4 L1504.3,985.7 L1515.4,1009.8 L1526.6,1032 L1534,1046.9 L1535.8,1074.7 L1534,1089.5 L1526.6,1102.5 L1513.6,1109.9 L1504.3,1109.9 L1500.6,1097 L1491.3,1087.6 L1478.4,1084 L1472.8,1069 L1461.7,1067 L1454.3,1054 L1443,1039 L1433.9,1026.5 L1430,1009.8 L1433,995 L1431,980 L1424.6,970.8 L1413.5,967 L1402.4,956 L1391,944.9 L1380,939 L1369,944.9 L1359.7,954 L1348.6,961.6 L1339,959.7 L1335.6,952 L1326.3,939 L1310.6,932.8 L1294.8,933.8 L1280,939 L1275,935 L1261.5,940 L1249.7,943.7 L1244.7,932 L1241,944 L1234.6,942 L1220,944 L1205,946 L1195.9,953.8 L1192,959.6 L1198.7,976 L1208,982 L1215.5,990 L1205.4,996.6 L1185,990 L1165,995 L1144.8,991.6 L1128,983 L1107.8,976.4 L1074,974.7 L1052.3,976.4 L1030.4,984.8 L1017,996.6 L990,1013 L969.9,1023.5 L953,1037 L939.6,1053.8 L931,1077 L931,1097.5 L936,1117.7 L940,1122 L935.8,1124.5 L925,1123 L904.8,1115.8 L889,1111 L875.7,1104 L862,1077 L858.9,1057 L842,1037 L830,1016.8 L821.9,996.6 L801.7,971.4 L771.4,966 L757.9,971.4 L747.8,990 L737.8,996.6 L714,976.4 L695.7,956 L690,937 L684,922.6 L664.7,908.8 L648,887 L637.8,871.7 L585.7,873.4 L584,890 L557,887 L489.8,875 L380.5,811 L382,802.8 L306.4,794.4 L306.4,792.7 L304.8,772.5 L294.7,755.7 L277.8,738.9 L274.5,728.8 L254,715 L234,698.5 L220.6,688.4 L222,675 L215.6,654.8 L205.5,634.6 L197,611 L203.8,590.8 L193.7,567 L195.4,557 L187,543.7 L183.6,533.6 L172,500 L176,475 L170,443 L183,415 L191,388 L194,367.8 L193,353.9 L201.9,336.4 L210.6,326 L217.6,312 L226.3,289 L235,266.6 L242,245.7 L245.5,230 L249,217.7 L250.7,202 L249.9,189.8 L250.7,172 L249,155.0Z" fill="none" stroke="#5c5c5c" stroke-width="2.6" stroke-linejoin="round"/></g>
<g fill="none" stroke="#474747" stroke-linejoin="round" stroke-linecap="round">
<path d="M1762.3,273.6 L1763,275.7 L1757.5,273.4 L1761.2,277.9 L1758,278.1 L1760.3,280.9 L1755.2,279 L1757.5,282.3 L1754.4,281.4 L1755.8,283.6 L1753.4,284.4 L1756.7,287.7 L1753.4,287.2 L1755.1,288.8 L1750.4,288.7 L1753.8,292.5 L1750.2,289.3 L1750.1,292.3 L1747.3,288.7 L1747.3,293.4 L1745.1,289.3 L1746,295.2 L1742.8,291.4 L1744.1,295.3 L1740.8,293.5 L1741.8,296.7 L1738.2,294.7 L1739.5,299 L1735.8,296.5 L1738.4,300.8 L1735.5,298.6 L1733.7,299.6 L1732.3,297.9 L1732.1,300.9 L1730.6,300.3 L1729.6,303.8 L1727.1,299.5 L1728.3,304.4 L1724.7,302.9 L1725.7,305.8 L1722.5,303.3 L1724.2,307.5 L1720.2,305.2 L1722.6,310.1 L1717.8,305.7 L1719.6,309.4 L1717.9,309.6 L1717.4,311.6 L1715,311.2 L1716.1,314.1 L1713.2,312.8 L1715.3,317.3 L1710.2,314.5 L1713,317.9 L1712.5,319.4 L1712.3,321 L1708.7,320 L1710,322.1 L1707.6,321.6 L1707.7,323.7" stroke-width="1.7"/>
<path d="M1707.4,323.9 L1706.6,325.2 L1704.7,325.3 L1703.4,326 L1701.9,326.4 L1700.6,327.9 L1697.7,327.4 L1698.3,329.1 L1695.9,329.2 L1696.3,331.4 L1694.2,332.9 L1693.1,334 L1691,333.4 L1691.1,335.9 L1690.1,337.6 L1690.9,339.6 L1689.1,340 L1688,342.3 L1686.5,343.3 L1688.6,344.9 L1686.9,347 L1687.4,348.7 L1686.3,350.1 L1687.2,351.6 L1684.4,352.2 L1685.5,355 L1684.7,356 L1685,357.4 L1683.5,358.7 L1684.2,361.3 L1683.7,362.2 L1684.4,364.1 L1682.6,365.5 L1682.1,367.3 L1681.8,368.7 L1682.4,369.9 L1681.3,371.8 L1680.9,373.2 L1680.1,374.8 L1680.8,376.8 L1680.1,377.7" stroke-width="1.3"/>
<path d="M1735.2,307.8 L1733.9,309.6 L1732,309.5 L1731.6,311.1 L1729,311.3 L1729,314.2 L1727.4,314.1 L1727,315.9 L1724.7,316.2 L1723.6,318.4" stroke-width="1.2"/>
<path d="M1682.8,394.7 L1683.6,396.4 L1682.2,398.3 L1684.6,399.5 L1684.2,401.5 L1686.3,401.7 L1685.4,404.3 L1687.9,403.8 L1689,405.7 L1690,406.2 L1691.6,407.5 L1693.7,407.1 L1694.4,409.9 L1696.7,408.3 L1696.7,411 L1698.1,411.3 L1697.7,414 L1699.6,414.2 L1700.8,416.4" stroke-width="1.3"/>
<path d="M1716.9,417 L1715.5,418.6 L1714.5,418 L1713.3,419.8 L1711.1,419.5 L1709.7,420 L1707.5,420.9 L1706.5,421.4 L1704.4,421.6 L1703.6,423.3 L1701.7,423.4 L1700.3,425.3 L1698.2,424.7 L1698.3,426.5 L1695.1,425.1 L1694.7,427.2 L1693.1,426.5 L1691.5,428.2 L1689.7,428.5 L1687.7,429.6 L1686.7,429.4 L1685.8,430.4 L1682.5,429.5 L1682.6,431.3 L1680.1,431.1 L1679.2,433.6 L1677.2,433.1 L1677.4,435.5 L1674.1,435.2 L1675.1,437.1 L1672,437.4 L1673.1,440.5 L1670.3,441 L1669.5,442.3" stroke-width="1.3"/>
<path d="M1669.2,442.2 L1668.4,443 L1666.7,442.7 L1664.6,444.5 L1663.1,443.6 L1661,445.5 L1659.6,445.3 L1658.4,446.4 L1655.3,447.2 L1654.9,447.5 L1652.6,448.6 L1651.2,449.4 L1648.8,449.5 L1646.8,450.3 L1645.4,450.8 L1644.1,452.5 L1642.5,451.4 L1640.2,453 L1638.8,452.4 L1637.3,454.6 L1635.6,454.1 L1634.2,456 L1631.8,457.1 L1631.1,458.5 L1629.2,459 L1628.3,460.4 L1626.2,461.8 L1626,463.2 L1624.3,463.7 L1623.1,466 L1621.4,466.3 L1620.4,468.9 L1618.9,468.9 L1617.9,471.6 L1616.2,472.2 L1616.2,473.6 L1613.9,475.1" stroke-width="1.2"/>
<path d="M1617,490.7 L1617.7,492.7 L1617.2,495 L1618,496.4 L1616.9,497.9 L1617.9,499.9 L1617.8,501.8 L1618.8,503.5 L1617.8,505.2 L1618.1,507.4 L1618.2,509.3 L1618.7,511.6 L1618.7,513.5 L1619.2,515 L1618.2,516.6 L1618.5,519.1 L1616.6,520.6 L1616.8,522.2 L1615.5,523.9 L1616.5,526.4 L1615.4,526.6 L1614.8,529.7 L1613.6,530.2 L1613,532.3 L1611.1,533.9 L1611.7,536.1 L1611.1,537 L1610.1,539.4 L1608.9,539.9 L1608.4,542.2 L1606.3,543.9 L1606,545.2 L1604.8,546.9 L1604.3,548.9 L1602.8,550.4 L1602.3,552.1" stroke-width="1.6"/>
<path d="M1586.9,629.7 L1585.3,629 L1588.5,627.2 L1586.6,626 L1587.3,624.5 L1584.2,623.5 L1586.3,622 L1585.6,620.4 L1584.3,618.9 L1584,617.7 L1584.6,616 L1584,614.4 L1585.6,612.6 L1583.7,612.1 L1584.5,610.6 L1584.4,609 L1585,607.3 L1580.4,606.9 L1584.3,605.2 L1581.9,603.8 L1585.6,601.8 L1581.2,601.3 L1582.8,598.6 L1579.7,599.4 L1582,595.3 L1577.2,596.9 L1579.7,593.9 L1576.5,594.7 L1579,591.6 L1575.3,591.6 L1576.8,588.9 L1575.2,589.1 L1575,586.6 L1571.5,587 L1574.6,583.7 L1571.9,583.6 L1571.6,582 L1568.3,582.3 L1570.8,579.7 L1568.4,580 L1568.9,578.1 L1569,577.3 L1571.1,576.3 L1566.8,573 L1570.6,572.6 L1569.3,570.4 L1572.8,571 L1571.4,568.1 L1574.1,568.6 L1573,566.3 L1573.4,565.1 L1572.1,563.9 L1573.1,562.1 L1568.9,562.3 L1569.8,560.1 L1568.3,559.2 L1571,556.4 L1565.6,557.6 L1570.1,554.2 L1568.7,553.6 L1569.2,552.3 L1568.1,550.8 L1569.1,549.3 L1568.9,547.7 L1572.1,546.8 L1569.1,544.5 L1571.8,543.4 L1570.9,542.1 L1571.8,540.3 L1571.3,539.4 L1571.5,537.5 L1568.9,536.7 L1569.9,535.7" stroke-width="2.3"/>
<path d="M1560.2,539.7 L1558.2,540.5 L1558.9,542.9 L1560.1,544.9 L1555.1,543.6 L1557.6,546.2 L1555.6,547.4 L1556.4,549.6 L1551.8,548.4 L1554.9,550.1 L1553.3,552.1 L1556.3,553 L1552.2,555.5 L1558.6,555.4 L1554.5,557.7 L1557.2,558 L1553.6,560.9 L1556.8,560.9 L1556.7,563.1 L1558.1,564.3 L1554,565.5 L1556.3,567 L1554.4,567.9 L1555.9,569.4 L1551.2,570.5 L1555.3,573.1 L1551.8,573.5 L1555.1,574.6 L1554.9,576 L1556.7,576.4 L1555.8,578.9 L1557.4,578.6 L1556.2,582.1 L1559.6,581.5 L1558.9,582.5 L1561.9,582.4 L1559.6,586.3 L1562.1,585.4 L1562.8,587 L1563,589.2 L1562.9,590.3 L1565.3,591.2 L1566.2,591.7 L1565.3,593.6 L1563.8,595.2 L1567.2,596.4 L1566,598.4 L1567.1,598.6 L1566.1,600.6 L1570.9,601 L1567.2,602.9 L1569.1,603.7 L1568.7,605.7 L1571,606.5 L1567.5,609.2 L1571.9,609.3 L1568.7,611.5 L1572.8,612 L1570.3,613.6 L1571.7,614.8 L1572.6,616.7 L1572.6,617.4 L1570.8,619.5 L1574,620.1 L1571.5,622.6 L1574.5,623.5 L1573.7,624.2 L1574.8,626 L1573.6,628.3 L1575.4,628.3 L1575.4,630.3 L1577.4,631.2 L1574.4,632.9 L1579.4,632.6 L1576.7,636 L1579.1,633.8 L1580.2,635.9 L1581.7,634.6 L1583.7,636.3 L1584.8,635.7 L1586.7,637.4 L1587.6,635.2" stroke-width="2.3"/>
<path d="M1604.1,574.1 L1604.8,576.4 L1603.3,578.1 L1603.6,580.7 L1602.4,581.2 L1603,583.8 L1601.3,585.2 L1601.8,587.6 L1600.4,588.8 L1601.8,590.6 L1599.4,593 L1600.2,595.1 L1597.8,596.4 L1598.5,597.9 L1596.9,599.5 L1597.3,601.5 L1596.3,603.2 L1596.3,604.7 L1594.9,606.2 L1594.8,607.7 L1594.4,609.9 L1594.5,611.7 L1592.9,613.7 L1593,615.7 L1592.7,617.4 L1592.3,618.9 L1592.2,620.4 L1591.6,623.5 L1590.9,624.3 L1591.2,626.5 L1589.1,627.8 L1588.8,629.2 L1587.2,629.8" stroke-width="1.8"/>
<path d="M1543.5,568.1 L1543.6,570.1 L1541.8,570.2 L1542.8,572.6 L1541.4,573.9 L1540.6,574.4 L1539.5,575.8 L1540.1,577.3 L1538.7,578.4 L1540.3,580.1 L1538.4,580.9 L1539.1,583.6 L1535.5,584.1 L1538.3,584.7 L1538.6,587.2 L1540.4,586.1 L1540.6,588.5 L1543.2,586.4 L1544.4,588.7 L1546.1,588 L1546.9,590.5 L1549,587.9 L1549.9,589.6 L1551.3,589.9 L1552,591.1 L1554.4,589.6 L1555,591.8 L1556.6,591.4 L1557.5,592.6 L1559.7,591.8 L1560.7,593.3 L1562.5,592.4 L1563,594.3 L1564.6,593.9" stroke-width="3.0"/>
<path d="M1550.1,599.1 L1551.9,599.6 L1552.8,600.6 L1554.1,601.4 L1554.8,602.3 L1557.3,600.5 L1557.4,603.4 L1560.4,602.2 L1559.3,605.6 L1562.7,603.9 L1562.5,606.4 L1564.6,605.3 L1564.9,608.2 L1567.2,606.4 L1567.8,609 L1569.3,607.9 L1570.6,608.8" stroke-width="3.2"/>
<path d="M1551.3,618.7 L1553.2,618.3 L1554.1,621.6 L1556.3,618.5 L1556.5,621.9 L1558.5,621.9 L1560.4,621.6 L1561.5,620.8 L1562.3,623.4 L1563.7,623.1 L1564.9,624.4 L1566.8,624 L1567.6,626.6 L1569.4,623.3 L1570.6,626.3 L1572.2,625.6 L1572.7,627.1 L1574.3,626.9" stroke-width="3.2"/>
<path d="M1546.5,629.5 L1548.1,629.1 L1549.2,631.2 L1551.1,627.9 L1553.1,630.5 L1553.8,629.4 L1555,629.8 L1556.8,630.4 L1558.2,630.2 L1560,630.5 L1560.6,632.7 L1562.7,631.4 L1562.9,633.2 L1565.6,631.5 L1565.8,633.5 L1567.6,632.9 L1568.2,636.3 L1570.4,634.6 L1571.7,636 L1572.8,635 L1573.3,638.5 L1575.7,635.5 L1576.7,638.2 L1578.2,638.4 L1579.7,638.5" stroke-width="3.2"/>
<path d="M1587.5,634.7 L1589,636.9 L1589.3,639.2 L1591,640.8 L1591.5,643.1 L1592.2,643.6 L1592.6,645.8 L1594.1,647.5 L1594.5,649.7 L1596.1,651.4 L1596.9,654 L1598.1,654.9 L1598.6,657.1 L1599.9,657.6 L1600.2,660.3 L1601.9,661.1 L1602.5,663.3 L1605,665.2 L1604.5,667.1 L1606.3,668 L1607.5,670.8 L1608.7,671.7 L1609.6,673.9 L1610.7,675 L1612.3,677 L1613.4,678.1 L1613.7,680.5 L1615,682.2 L1615.1,683.4 L1615.9,685.3 L1615.6,688.3 L1616,689.8 L1615.7,692.1 L1616.5,694.4 L1616.7,695.3 L1615.2,697.2 L1612.9,698.4 L1611.5,699.5 L1609.4,700.8 L1607.7,702 L1606.1,703 L1605.8,704.2 L1602.3,705.2 L1601.5,707.1 L1600.4,707.2 L1599.2,709.2 L1598.2,710.4 L1597.4,713.3 L1595.9,715.1 L1594.8,717.1 L1593.5,718.8 L1594.2,719.7 L1592.7,721.5 L1592.3,724.6 L1591.6,726.3 L1591.2,727.3" stroke-width="1.9"/>
<path d="M1565.1,662.2 L1565.6,663.4 L1566.5,664.5 L1568.8,664.9 L1567.5,667.4 L1569.5,668 L1569.1,669 L1571.7,668.8 L1570.1,672.9 L1573,671.6 L1573.5,672.9 L1575,673.1 L1574.7,675.5 L1576.4,674.2 L1578,675.7 L1579.1,673.8 L1581.4,675.8 L1582.2,673.3 L1583.4,674.3 L1584.1,672.2 L1586.3,674.1 L1586.7,670.1 L1589.1,671.8 L1590,670.7 L1590.8,670.9 L1591.9,668.4 L1594.6,670.4 L1594.6,669.1 L1597,669 L1597.5,667.9 L1599.4,668.4 L1600.1,667.6" stroke-width="2.8"/>
<path d="M1576.7,678.2 L1577.4,678.1 L1579.9,678.3 L1580.7,676.5 L1582.5,677.7 L1583.6,675.8 L1585.3,676.3 L1585.8,675.4 L1588.6,677.3 L1589.2,674.5 L1591.1,675.4 L1591,673.6 L1593.5,674.7 L1593.7,671.5 L1596.3,673.7 L1597,671.1 L1598.2,672.4 L1600.6,671.2 L1601.1,672 L1603.1,672.0" stroke-width="2.2"/>
<path d="M1606.4,683.8 L1606.5,684.7 L1603.3,683.3 L1605.1,687 L1601.6,686.1 L1602.9,689.7 L1600.1,689.1 L1602.8,692.4 L1599.5,692.8 L1602.2,694.2 L1598,694.9 L1599.3,697.4 L1597.1,696.9 L1597.2,699.1 L1593.7,697.2 L1593.9,700.3 L1592,699.5 L1592.3,703.5 L1588.8,700.9 L1590.3,703.6 L1589.6,704.6 L1590.9,706.1 L1588.9,708.0" stroke-width="2.6"/>
<path d="M1566.3,694.1 L1568,693.5 L1567.4,696.6 L1569.8,694.8 L1570.4,696.9 L1573.6,695.9 L1573.5,698.4 L1575.4,696.4 L1575.5,700.7 L1578.5,698.3 L1578.6,700.9 L1581.3,699.3 L1581.2,700.9 L1583.7,700.2 L1584.5,703.1 L1586.4,701.7 L1587.5,703 L1588.8,702.6 L1590.5,703.1" stroke-width="3.2"/>
<path d="M1568.8,708.9 L1570.9,708.7 L1570.6,711.3 L1573,711.1 L1572.3,713.7 L1575.2,713.1 L1575.7,715.4 L1577,714.8 L1578.6,716.4 L1580.1,715.5 L1581.1,718.1 L1583.4,716.4 L1584.1,718.4 L1585.8,718 L1585.7,720.4 L1589,719.8 L1586.6,722.8 L1589.9,722.5 L1588.9,724.9 L1590.5,724.9 L1591.1,727.2" stroke-width="3.2"/>
<path d="M1590.9,727.8 L1589.4,727.9 L1588.4,725.6 L1586.1,728 L1585.1,724.5 L1583.7,726.6 L1582.7,724.2 L1580.4,725.3 L1579.2,725.1 L1578.1,727.1 L1575.8,726.7 L1576.1,728.5 L1573.5,728.5 L1573.7,730.3 L1571.5,730.6 L1570.5,731.8 L1567.6,730.6 L1568.6,734.2 L1565.9,732.5 L1565.7,734.5 L1563.8,735.7 L1563.8,738 L1561.6,737 L1561.8,740.2 L1559.1,738.8 L1559.7,741.9 L1557.3,742.9 L1558,744.7 L1556.7,745.6 L1557.4,747.3 L1554.4,748.2 L1555.2,750 L1554.7,750.5 L1555.2,753.1 L1552.2,753.8 L1553.5,755.4 L1551.4,756.7 L1554.2,758.4 L1551.9,759.6 L1553.6,761.9 L1552.3,763.2 L1552.3,764.1" stroke-width="2.2"/>
<path d="M1552.2,764.5 L1550.7,764.2 L1548.8,763.9 L1546.2,764.2 L1544.2,762.8 L1542.6,763.8 L1540.5,764.1 L1538.9,764.9 L1536,765.3 L1535.5,766.8 L1532.3,767 L1531,768 L1529.4,769.4 L1529.1,770.4 L1526.8,772.5 L1526.2,775.2 L1524.4,775.4 L1523.8,778.3 L1522.7,779 L1522.4,780.7 L1520.3,783 L1520.1,785.2 L1519,785.6 L1518.4,788.8 L1517.4,789.9 L1516.3,792.4 L1515,793.1 L1514.7,795 L1512.3,797.1 L1512.7,799.3 L1510.4,800.6 L1511,801.9 L1508.4,803.9 L1507.8,806 L1506.3,806.8 L1506.6,808.9 L1504.9,810.3 L1503.4,813.0" stroke-width="1.6"/>
<path d="M1504,812.2 L1503.4,814 L1500.4,813 L1501.2,816 L1499.2,815.8 L1499.1,818.3 L1496.5,816.5 L1496.7,818.8 L1495,819 L1494.3,821.6 L1491.2,819.2 L1492.5,823.4 L1488.9,821.8 L1490.4,824.6 L1489.2,825 L1488.7,827.1 L1485.6,825.6 L1486.9,829.8 L1484.4,828.4 L1483.6,830.4 L1480.5,829.1 L1481.3,832.2 L1479,830.9 L1480.7,834.6 L1477.1,833.7 L1478.6,836.8 L1476.3,837.4 L1476,838.7 L1473.3,837.1 L1473.5,839.2 L1471.9,839.9 L1471.4,842.1 L1468.7,841.6 L1469.2,843.2 L1467.2,843.7 L1470.1,847 L1466.3,847.5 L1468.3,849.4 L1464.5,849.8 L1465.8,851.3 L1465.2,853.2 L1466.7,854.7 L1463.7,855.4 L1464.7,856.7 L1462.4,857 L1464.3,860 L1463.3,860.4 L1463.1,862.5 L1461.4,863.8 L1463.3,864.9 L1460.6,865.8 L1461.9,867.8 L1460,869 L1462.7,870.2 L1460.1,871.8 L1462.3,873.1 L1461.1,874.2 L1462.7,876 L1459.2,877.2 L1460.3,878.6 L1458,880.5 L1461.8,881.5 L1459.4,882.8 L1460.6,884.3 L1459.3,885.9 L1461.6,887.5 L1459.6,888.5 L1461.5,890.2 L1459.6,891.6 L1461.5,893.2 L1460.6,894.1 L1461.7,895.2 L1459.3,896.6 L1461.4,898.4 L1459.2,900.5 L1461.1,901 L1460.7,902.5 L1461.7,904.4" stroke-width="2.0"/>
<path d="M1461.9,904.4 L1462.6,905.7 L1463.4,908.9 L1464.5,909.8 L1464.8,911.6 L1466.2,913.3 L1466.4,915.7 L1468,918.4 L1468.4,920.3 L1469.9,922.5 L1470,923.7 L1471.4,925.5 L1472.7,928.5 L1473.9,929.7 L1474.6,931.7 L1476.3,934.4 L1476.3,935.2 L1477.1,937.2 L1478.5,939.6 L1479.8,941.5 L1480.8,944.7 L1482.3,946.1 L1482.8,948 L1483.7,949 L1484.9,952.1 L1485.9,953.1 L1486.6,955.4 L1487.7,956.6 L1489.4,959.9 L1490.2,960.9 L1491.2,963.4 L1492.1,964.4 L1493.3,967.7 L1494.1,968.2 L1495.1,970.3 L1496.8,973.2 L1497.3,974 L1498.9,976.6 L1500,979 L1501.3,980.3 L1502.4,982.9 L1503.7,984.1 L1504.2,986.4 L1505.9,988.4 L1505.7,989.5 L1507.5,992.9 L1507.8,994.5 L1509.3,996.6 L1509.6,997.4 L1511.3,1000.1 L1511.5,1001.8 L1513.1,1003.6 L1513.1,1006.2 L1515.2,1008.9 L1515.9,1011 L1517.1,1012.4 L1517.2,1013.5 L1519.1,1016.7 L1519.7,1018.9 L1520.7,1019.4 L1521.5,1022 L1523,1024.1 L1523.2,1025.6 L1525.5,1028.3 L1525.4,1030.7 L1526.6,1031.8 L1527.7,1033.7 L1528.4,1035.7 L1529.2,1036.9 L1530.8,1040.2 L1531.5,1042 L1533.1,1044.2 L1532.9,1045.4 L1534.2,1047.1 L1534.1,1050.3 L1534.6,1052.4 L1534,1054.6 L1535.1,1057.3 L1534.3,1058 L1535.3,1061.3 L1534.8,1064 L1535.5,1064.6 L1535.1,1067.7 L1535.6,1069.1 L1535.2,1072.9 L1535.9,1074.8 L1535.3,1076.1 L1535.7,1079.5 L1534.6,1080.4 L1534.9,1082.8 L1534.4,1084.3 L1534.5,1087.1 L1534.1,1088.9" stroke-width="1.8"/>
<path d="M1459.9,905.4 L1459.7,907.2 L1458.7,909.2 L1459.4,910.4 L1458.3,912.7 L1459.7,914.5 L1458,915.1 L1458.4,917.6 L1457.8,918.6 L1457.5,920.3 L1456.9,921.5 L1458.1,924.2 L1457,925.5 L1458,926.8 L1456.9,927.9 L1458.6,930 L1457.9,931.1 L1459.9,933.2 L1459.2,934.1 L1460.3,936.1 L1460,937.3 L1460.5,939.7 L1460.5,940.3 L1462.2,942.6 L1461.9,944.2 L1462.3,945.5 L1461.2,946.9 L1463.2,949.2 L1463.3,949.7 L1463.4,951.8 L1463.7,953.9 L1465.1,954.3 L1463.9,956.4 L1465.2,958.6 L1465.4,959.7" stroke-width="1.6"/>
<path d="M1494,968.1 L1495.1,969.5 L1494,971.6 L1496.3,972.6 L1495.6,974.6 L1498.1,974.9 L1496.9,976.7 L1498.6,978.1 L1497.9,979.7 L1501,979.5 L1499.4,982.8 L1501.4,983.2 L1501.5,985.2 L1503.2,986.4" stroke-width="1.8"/>
<path d="M1534,1089.5 L1533.9,1090.7 L1531.7,1091.3 L1532.8,1093.7 L1530.2,1094.6 L1530.8,1097.6 L1527.8,1097.4 L1528.8,1099.4 L1526.9,1101 L1527.2,1103.1 L1525.3,1102.3 L1524.8,1104.4 L1522.2,1104.2 L1522.3,1106.4 L1519,1105.4 L1519.3,1107 L1517.4,1107.1 L1516.1,1109 L1514.3,1108 L1513.7,1110.8 L1511.5,1109.4 L1509.8,1110.1 L1508.3,1109.4 L1506.1,1110.9 L1504.6,1109.3 L1503.5,1109.8 L1504.1,1107.7 L1502.4,1106 L1502.9,1103.8 L1502,1103.2 L1502.5,1100.4 L1501.2,1100.4 L1501.8,1097.3 L1499.7,1096.9 L1499,1095.3 L1497.8,1094.9 L1496.3,1093.3 L1495.1,1092.4 L1495.3,1090.3 L1493,1089.9 L1493.7,1087.9 L1491.4,1087.4 L1490.7,1086 L1487.4,1088.1 L1487.1,1085 L1485,1086.4 L1484.2,1085.3 L1481.7,1085.2 L1480.8,1084.1 L1478.4,1085.5 L1478.6,1082.8 L1477.4,1081 L1477.3,1079.2 L1475.2,1079.4 L1476.3,1077 L1475,1076 L1475.1,1073.8 L1473.2,1072.6 L1475.1,1070.8 L1472.1,1069.9 L1472.4,1068.6 L1470.4,1068.6 L1469.3,1067.3 L1467.3,1069 L1465.8,1067.1 L1463.3,1067.9 L1463.3,1066.2 L1461.5,1066.6 L1461.8,1063.7 L1459.3,1063.7 L1459,1061.4 L1457.3,1060.7 L1457.6,1058.3 L1456.2,1058.2 L1455.3,1056.5 L1454.4,1055.1 L1455,1052.9 L1452.5,1052.8 L1452.6,1050.5 L1450.4,1050 L1450.5,1047.6 L1448.5,1048.1 L1449,1045.8 L1446.4,1045.4 L1446.5,1043.1 L1445.2,1042.5 L1444.3,1040 L1443,1040 L1443,1037.5 L1440.6,1036.8 L1441.5,1035.1 L1438.5,1034.4 L1439.6,1032.4 L1436.8,1031.8 L1437.4,1029.3 L1435.4,1029.4 L1435.8,1026.9 L1434.1,1026.8" stroke-width="1.7"/>
<path d="M1433.8,1025.9 L1433.2,1024.5 L1433.6,1023.2 L1432.5,1022.2 L1432.7,1020 L1431.8,1017.9 L1431.8,1016.6 L1430.7,1014.5 L1431.6,1012.4 L1429.7,1011.9 L1430.1,1010.1 L1429.8,1007.6 L1431.4,1006.8 L1429.8,1004.6 L1432.7,1002.9 L1431.1,1001.8 L1432.6,999.4 L1431.3,998.2 L1432.8,996.5 L1432.8,994.7 L1433.4,992.4 L1432,991.4 L1432.7,989.8 L1432.5,988.6 L1432.6,986.9 L1430.6,984.4 L1431.4,982.8 L1430.8,981.5 L1430.7,979.4 L1428.6,978.3 L1429,976.9 L1427.1,976.6 L1427.6,973.1 L1426,972.8 L1425.1,970 L1423.1,971 L1422.5,969.3 L1420.2,970.3 L1418.5,968.2 L1416.6,968.4 L1415.8,966.9 L1413.7,967.5 L1412.6,965.1 L1409.8,965.3 L1409.8,963 L1407.9,962.9 L1408.2,961.2 L1406.9,960.3 L1405.8,958.7 L1403.4,957.7 L1402.5,955.9 L1401.9,955.6 L1400.7,953.6 L1398.9,953.8 L1398.5,951.4 L1396.2,950 L1396,948.7 L1393.7,948 L1393,945.9 L1391.8,946.4 L1390.7,944.8 L1389.3,944.4 L1388,941.8 L1385.1,942.7 L1384.2,940.6 L1382.2,940.6 L1381.3,939.6 L1380.1,939.1 L1377.6,939.8 L1377,941.1 L1375.4,940.8 L1374.8,942.8 L1372.1,942.8 L1371.3,944.1 L1368.6,944.2 L1367.7,946.4 L1366.1,946.7 L1366.5,948.4 L1364,949.5 L1363.2,950.4 L1361.8,951.1 L1360.8,952.4 L1359.1,954.5 L1357.8,955.9 L1357,955.9 L1355.6,956.7 L1352.7,957.6 L1352.4,959.7 L1350.3,959.9 L1350.1,961.1 L1347.5,961 L1345.7,962.1 L1344.6,961.1 L1342.7,960.4 L1341.5,959.6 L1338.8,960.3 L1339.9,958.4 L1337.6,958.1 L1337.5,955.9 L1335.5,954 L1336.1,953.1 L1335,951.6 L1333.8,949.3 L1332.9,949.1 L1332.4,946 L1330.3,945.8 L1330.3,943.9 L1328.5,942.9 L1327.9,941.3 L1326.5,941.1 L1325.9,938.6 L1324.3,938.3 L1323.1,937.1 L1321.2,937.1 L1320,935.7 L1317.1,936 L1316.8,934.3 L1314.2,934.6 L1313.4,933.7 L1310.8,933.5 L1309.6,932.9 L1308.4,933.5 L1307,931.9 L1304.7,932.9 L1302.5,932.9 L1302,933.8 L1299.8,932.9 L1297.6,934.5 L1296.4,933.8 L1294.2,934.3 L1292.2,933.8 L1291,936.1 L1289.2,934.8 L1288.5,936.7 L1286.1,936.4 L1285.1,938.5 L1283.4,937.2 L1281.7,938.8 L1280,939.0" stroke-width="1.6"/>
<path d="M1435.9,1012 L1437.4,1011.3 L1438.7,1013.7 L1441,1012.6 L1441.5,1013.4 L1443.5,1014.3 L1443.3,1015.2 L1445.8,1016.3 L1445.3,1017.6 L1444.8,1019 L1443.9,1019.2 L1443.6,1021.7 L1441.3,1021.8 L1441.9,1023.1 L1440.5,1024.2 L1440.8,1026.4 L1438.6,1027.5 L1439.2,1028.3 L1438.1,1029.8" stroke-width="1.4"/>
<path d="M1455.3,1051.7 L1455.8,1050.8 L1457.9,1050.5 L1458.2,1048.5 L1459.7,1048.5 L1460.8,1049.6 L1460.1,1051.1 L1461.9,1052.4 L1462.3,1053.6 L1462.6,1055.2 L1462.2,1056.3 L1461.5,1058.3 L1461,1059.1 L1460.7,1060.9 L1459.1,1061.9" stroke-width="1.4"/>
<path d="M1528.6,1114.9 L1527.5,1117.2 L1525.2,1116.6 L1524.8,1118.5 L1523,1118.1 L1522.3,1120.7 L1520.6,1119.7 L1520.2,1121.4 L1518.2,1121.5 L1517.1,1123.4 L1515.2,1122.9 L1514.7,1125 L1513.3,1125.1 L1511.6,1126.6 L1509.8,1126.7 L1509.3,1128.6 L1507.7,1128 L1506.8,1130.1 L1504.2,1129.6 L1503.2,1129.9" stroke-width="2.2"/>
<path d="M1497.1,1132 L1495,1133 L1494.3,1132.7 L1492.4,1134.4 L1491.1,1133.3 L1489.4,1135.8 L1488.1,1134 L1486.4,1136.1 L1484.9,1135 L1483.5,1136.8 L1481.8,1135.2 L1480.3,1136.9" stroke-width="2.2"/>
<path d="M1476.5,1137.8 L1473.9,1138.6 L1472.8,1139.1" stroke-width="2.2"/>
<path d="M1449.1,1139.5 L1447.9,1140.1 L1446.4,1139.9" stroke-width="2.0"/>
<path d="M1279.6,938.7 L1278,938.4 L1278.4,936.6 L1275.9,936.9 L1275.4,934.4 L1273.4,936.4 L1271.8,936 L1270.5,936.9 L1268.4,937.5 L1267.2,938.6 L1266.3,937.8 L1264.6,939.3 L1262.8,938.7 L1261.4,940.5 L1259.6,940.3 L1258.8,942 L1256.4,940.9 L1255.9,942.7 L1253.2,941.7 L1252.6,943.1 L1250.4,942.7 L1249.4,942.9 L1248.4,941.3 L1246.9,940.2 L1247.9,938.5 L1246.3,937.2 L1246.6,935.7 L1244.9,934.8 L1245,932.8 L1244.8,933.6 L1243.4,934.6 L1244.1,935.5 L1242.3,937.6 L1242.8,939 L1242.1,940 L1241.8,942 L1240.3,942.9 L1239.6,943.7 L1239.1,942.9 L1237,942.9 L1235.6,942.1 L1233.3,942.5 L1232.4,941.4 L1231.1,943 L1229.5,942.1 L1227.9,943.7 L1225.7,943.1 L1224.6,943.7 L1222.2,943 L1221.1,944.5 L1220.1,943.2 L1217.7,944.3 L1216.5,944.3 L1215,945.6 L1213,944.2 L1211.1,945.1 L1210.1,944.7 L1208.5,946.6 L1206.2,945.2 L1205.9,945.8 L1204.2,946.6 L1203,947.6 L1201.5,948.6 L1200.7,950.5 L1198.6,950.4 L1198.2,953.1 L1196.1,952.8 L1196.6,955.1 L1194.9,955.5 L1193.9,957.5 L1192.3,958.6 L1191.6,960.1" stroke-width="1.5"/>
<path d="M1192.2,960.1 L1192.7,960.5 L1190.6,963.3 L1195.4,962.9 L1193,964.8 L1194.7,965.9 L1194,967.5 L1196.2,968.6 L1194.7,971 L1199.2,970.1 L1195.9,973.2 L1198.9,973.6 L1196.8,975.4 L1199.2,975.7 L1200,977.2 L1203,976.5 L1201.6,981.1 L1204.5,978 L1206,979.6 L1207.1,978.8 L1207.7,982.1 L1209.9,981.3 L1208.2,984.5 L1210.1,985.2 L1211.9,985.7 L1212.7,986 L1212.3,988.4 L1215.9,987.6 L1212.6,990.1 L1217,992.6 L1212.9,990 L1212.2,992.7 L1209.3,990.9 L1209.7,994 L1207.4,993 L1208.3,996.8 L1205,994 L1205.3,996.7 L1204.4,994.9 L1202,996.5 L1201.6,995.4 L1199.5,994.7 L1198.3,994 L1197.4,994.4 L1196.2,991.9 L1194.5,993.4 L1193.4,992.2 L1190.9,994.4 L1191,991.5 L1188.8,992.6 L1188.4,989.8 L1186.4,991 L1185,987.9 L1184.5,991.7 L1182.2,989.1 L1182,992.9 L1179.7,989.4 L1178.6,992.9 L1176.4,989.8 L1175.8,992.8 L1174.1,992 L1174.1,995.4 L1171.3,992.4 L1170.1,994.2 L1168.4,993.4 L1168.4,996.8 L1165.5,992.6 L1165.2,996.6 L1164.2,992.1 L1161.5,996.8 L1161.1,993 L1158.9,997.3 L1157.8,991.6 L1157.1,993 L1155.4,991.7 L1153.9,993.6 L1152.8,991 L1150.2,994.2 L1149.3,992.5 L1148.7,991.4 L1147.6,988.8 L1145.1,992.3 L1144.5,991.1 L1142.4,991.1 L1142.6,987.1 L1139.2,991.8 L1140.3,986.1 L1137.6,989.1 L1137,987.5 L1135,988.3 L1135.5,983.8 L1131.7,988 L1132.6,983.3 L1129.4,984.9 L1130.1,982 L1126.8,985.4 L1127,980.6 L1124.7,982.4 L1125.3,978.5 L1122,982.9 L1121,981.8 L1120,979.8 L1118.7,977.7 L1116.6,980.7 L1116.7,977.6 L1114.2,979.5 L1113.6,976.9 L1111.3,980.5 L1110.3,976.7 L1107.7,979.5 L1108.2,976.5" stroke-width="2.6"/>
<path d="M1196.2,966.1 L1197.4,966.4 L1197.6,969.2 L1200.4,968.2 L1199.8,971.3 L1201.7,970.5 L1201.8,972.7 L1204.2,973.1 L1201.1,973.5 L1203.9,976.3 L1199.2,976 L1200.9,978.5 L1201.1,979.7 L1202.1,980.4 L1200,982.7 L1204.5,981.6 L1202.8,984.3 L1204.4,984.6 L1203.7,986.7 L1206.5,987 L1205.7,991.3 L1209.1,988.3 L1209,991.5 L1211.2,990.4 L1212.1,991.0" stroke-width="2.8"/>
<path d="M1149.8,989.9 L1152.2,989.2 L1150.8,993.8 L1153.6,991.7 L1154.9,992.6 L1156,993.8 L1155.8,996.3 L1158.7,994.9 L1159.4,996.2 L1160.4,993.2 L1162.7,996.2 L1164.2,995.2 L1164.8,993.7 L1165.9,991.9 L1167.9,994 L1169.2,993.6 L1170.1,992.7 L1172,992.9 L1173.3,992.3 L1174.5,990.5 L1175.5,994.3 L1177.4,992.5 L1178.7,993.5 L1180.4,992.5 L1181.6,993.7 L1183.5,993.0" stroke-width="2.8"/>
<path d="M1108.2,976.4 L1106.1,976.9 L1104.4,975.6 L1100.9,976.3 L1099.5,975.8 L1096.9,975.3 L1094.9,975.3 L1094.2,975.3 L1090.8,974.8 L1089.6,975.3 L1086.5,974.8 L1086,975.3 L1082.4,974.4 L1080.6,974.9 L1079.3,974.2 L1077.3,975.1 L1075,974.8 L1073.1,975 L1070.1,975.1 L1068.9,975.9 L1066.9,974.8 L1064.4,976 L1063.2,975.5 L1059.8,975.9 L1057.9,976.1 L1056.1,976.4 L1054,976 L1052.9,976.4" stroke-width="1.5"/>
<path d="M1052.5,976.3 L1050.6,978.1 L1049.3,977 L1047.7,978.7 L1046.1,978.8 L1044.1,980.2 L1043.2,979.7 L1041.8,980.6 L1038.8,980.7 L1038.1,982.7 L1035.7,982.2 L1034.5,983.4 L1032.8,983.5 L1031.5,984.8 L1030.1,984.4 L1029.1,986.6 L1027.4,986.8 L1026.2,988.9 L1024.1,989.8 L1023.8,991.1 L1022.4,991.6 L1020.7,993.7 L1019.2,993.8 L1018.9,996.1 L1016.7,996.1 L1015.9,997.6 L1014.2,998.4 L1013.3,999.4 L1011.9,999.7 L1010.3,1001.3 L1008.5,1001.6 L1007.3,1003 L1005.1,1002.9 L1004.8,1004.6 L1002.2,1004.9 L1001.4,1007.3 L999.4,1007.1 L998.7,1008 L997,1009.1 L995.9,1009.8 L993.7,1010 L992.7,1011.3 L990.5,1012 L990.2,1014.1 L987.8,1014 L986.4,1014.9 L984.7,1014.9 L983.4,1017 L981.6,1017 L980.7,1018.7 L978.7,1017.5 L977.8,1019.8 L975.3,1020.1 L974,1021.7 L972.5,1021.5 L971.9,1023.1 L969.4,1022.5 L967.7,1025 L967.4,1025.7 L965.7,1027.3 L963.2,1027.7 L963.2,1029.2 L961.8,1029.3 L960.1,1031.1 L958.3,1031.4 L957.8,1033.3 L956.1,1033.5 L955.2,1036.5 L953.7,1035.8 L953.2,1038.2 L951,1039.1 L950.1,1041.2 L949.1,1041.5 L949.2,1043.6 L946.4,1044.5 L946.6,1046.5 L944.4,1047.3 L944.5,1049.3 L942.4,1048.9 L942.6,1051.5 L940.2,1052.7 L940.2,1053.5 L939,1055.7 L939.4,1057.4 L937.2,1058.8 L937.8,1059.9 L936.5,1061.7 L936.4,1063.4 L935.2,1064.2 L935.1,1067 L934.3,1068 L934.1,1070.5 L932.7,1071 L933.1,1073.7 L931.8,1074.1 L931.5,1076.7 L930,1077.6 L931.8,1079.8 L931.2,1081.3 L931.5,1082.8 L930.1,1085 L932.4,1086.2 L930.5,1087.5 L931.4,1089.5 L930.6,1091 L931.6,1094 L930.9,1094.5 L932.1,1096.7 L930.4,1098.4 L932.1,1100.6 L931.3,1102 L932.8,1103.8 L932.1,1104.8 L933.8,1106.2 L932.7,1109.1 L934.4,1110 L934.5,1111.3 L935.9,1113.4 L935,1114.8 L936.1,1116.7 L936.3,1118.5 L937.9,1119.4 L938.3,1120.9 L939.6,1121.6" stroke-width="1.6"/>
<path d="M1022.1,984.9 L1021.8,986.9 L1020.6,987.4 L1020,989.6 L1018.9,990.2 L1020.4,991.2 L1021.6,992.6 L1023.5,993.3 L1025.4,993.7 L1025,992.2 L1026.4,990.7 L1026.9,988.7 L1028.2,987.7" stroke-width="1.3"/>
<path d="M936.6,1124.6 L933.3,1125.1 L930.7,1123.6 L929.1,1124 L927.4,1122.5 L924.6,1123.1 L923,1121.8 L920.5,1121.8 L918,1120.1 L916.7,1120.3 L914,1118.3 L911.4,1119.1 L910.9,1117.8 L908.9,1117.4 L907.1,1115.8 L904.8,1116.2 L902.7,1115 L899.5,1114.3 L898.5,1113.6 L895.9,1113.1 L893.1,1111.8 L892.1,1112.3 L888.9,1110.5 L887.4,1110.7 L885.9,1109.6 L883,1108 L881.5,1106.5 L878.7,1106 L877.1,1104.9 L874.9,1103.9 L874.6,1102.4 L873.3,1100.8 L873,1097.3 L871,1095.8 L871,1092.9 L869.2,1092.5 L869.1,1090.1 L866.8,1088.1 L866.9,1086.4 L865.4,1083.5 L865,1081.4 L863.9,1080.3 L863.2,1077.6 L861.2,1076 L861.7,1074.8 L860.8,1071.3 L861,1069.7 L860.2,1067 L860.6,1065.6 L859.2,1062.6 L860.5,1061 L859.1,1059.7 L859.1,1055.7 L857.3,1055.9 L856.2,1053.5 L853.4,1051.5 L852.7,1049.1 L851.2,1048.4 L850.3,1046.1 L848.3,1045.4 L847.7,1043.3 L845.6,1042.1 L844.8,1039.1 L842.8,1037.8 L841.9,1035.7 L840.1,1034.2 L839.9,1033.2 L838.2,1030.8 L838,1029.2 L835.7,1027 L835.6,1024.8 L833.3,1022.6 L833.3,1021.2 L831.4,1020.2 L831.2,1017.7 L828.9,1015.2 L828.7,1013.2 L827.5,1012.2 L827.7,1009.8 L825.7,1007.1 L826.2,1005.7 L823.9,1002.8 L823.9,1000.7 L822.9,999.9 L822.4,997.7 L820.1,994.7 L820,993.3 L818.2,992 L816.9,989.2 L814.9,987.7 L813.7,985.7 L811.9,984.8 L811.7,983 L810.3,981.9 L808.6,978.9 L807.2,977.7 L805.7,976.4 L803.7,974.1 L804,972.7 L801.1,971.7 L800.2,970.3 L797.1,970.6 L795.7,969.8 L793.3,970 L791.2,969 L787.9,969.6 L785.7,968.4 L783.7,968.9 L781,967.3 L779.7,968.1 L777.8,967 L774.6,967 L773.6,966.1 L770.3,967.1 L769.5,966.3 L766.3,968.7 L765.5,968.2 L762.3,970.1 L760.4,969.6 L758.1,971.8 L757.2,971.7 L756.9,975.1 L754.8,977.3 L754.5,978.7 L752.5,980.4 L751.8,982.6 L750.4,983.9 L749.9,986.5 L748.1,987.9 L747.3,990.7 L746.4,990.6 L744.7,992.7 L741.3,993.7 L740.1,995.7 L738.5,995.8 L736.6,995.6 L735.6,994.3 L733.7,993.3 L731.9,991.4 L729.6,990.9 L728.5,988.2 L726.9,988 L724.4,985.2 L722.6,983.8 L721.6,982.3 L719.4,982 L718.8,979.9 L716.3,978.1 L715.1,976.4 L713.5,976.2 L711.7,973.1 L709.6,972.3 L708.7,969.8 L707.3,968.6 L706.1,967 L704.1,966.3 L702.4,963.6 L700.6,962.5 L701,961 L699,959.9 L697.4,957.6 L695,955.6 L695,952.9 L694.5,952.3 L694.1,949.3 L692.7,947.8 L692.4,944.5 L691.3,942.7 L691.8,940.3 L690.2,939.2 L690.1,936.9 L688.7,935.4 L688.6,933.5 L687,930.2 L686.6,928.1 L684.7,926.1 L684.5,923.8 L684,922.5" stroke-width="1.6"/>
<path d="M1189,689.2 L1188.8,692.3 L1187.6,693.9 L1189,696.5 L1186.6,698 L1187.5,699.4 L1187,701.4 L1185.8,703.4 L1183.7,704 L1185.2,706.5 L1183,707.9 L1182.5,710.6 L1180.5,711.9 L1181.9,715 L1180,716 L1180.8,718.3 L1179.6,719.5 L1180.3,721.9 L1178.6,723.1 L1179.6,725.9 L1177.7,727.2 L1179.8,729.6 L1177.2,732.1 L1177.2,733.2 L1175.1,735.8 L1174.7,736.5 L1172.9,739 L1174,741.9 L1171.1,741.1 L1171.2,744.5 L1168.1,745.6 L1169.2,748.5 L1168.8,749.9 L1167.3,751.8 L1166.2,753 L1167.3,755.8 L1163.9,756 L1165.4,758.9 L1163.3,760.9 L1164.3,762.5 L1162.6,764.5 L1162.6,767.4 L1161.4,767.5 L1162.3,770.5 L1160.3,772.4 L1159.9,773.2 L1156.9,774.5 L1158.2,777.4 L1156.5,779 L1156.4,780.9 L1153.5,781 L1152.9,784.5 L1151.7,786.3 L1151.2,787.3 L1149.8,789.3 L1150.7,791.4 L1148.3,793.2 L1148.9,795.7 L1146.9,796.1 L1147.2,798 L1144.9,800.8 L1145.5,802.7 L1144,804.3 L1144,806.3 L1143.2,807.2 L1142.6,809.1 L1140.8,811.3 L1140.9,814 L1139.3,816 L1140.1,817.5 L1139.8,818.7 L1140.6,821.3 L1137.5,823.7 L1138.4,825.5 L1137.1,826.9 L1138.2,830 L1136.3,831.4 L1137.5,832.6 L1136.1,834.5 L1138.5,837.5 L1136.2,839.8 L1138,841.7 L1134.7,843.3 L1137.6,845.6 L1136.6,846.6 L1137.6,848.9 L1136.8,851.3 L1138.2,852.3 L1137.3,854.5 L1139.5,856.2 L1139,859.5 L1141.9,859.2 L1140.3,862.3 L1142.8,863.2 L1141.8,866.7 L1143.3,867.5 L1142.8,870.3 L1145.7,871.3 L1144.4,874.3 L1144.2,876.1 L1141.9,876.5 L1141.4,879.1 L1140.2,880 L1141,882.7 L1139.1,884.2 L1139.5,886.7 L1136.4,888.4 L1138.5,890 L1135.2,891.9 L1136.1,894.3 L1134.2,896 L1135.2,897.7 L1131.9,897.8 L1133.7,901.1 L1131.7,902.3 L1130.6,904.2 L1129.7,906 L1129.1,908.8 L1128.4,910.4 L1128.2,911.4 L1127,914.1 L1128.7,916.9 L1126.3,918.1 L1127.7,920 L1125.1,921.3 L1127,924.3 L1126.3,925.8" stroke-width="1.0"/>
<path d="M857,788 L859.6,788.5 L860.7,789.9 L862.8,791.2 L863.6,792.4 L866.8,792.6 L867,793.8 L870,794 L871.4,795.7 L873.5,796.5 L874.2,798.3 L876.9,797.8 L878.2,799.7 L880.4,798.6 L883,800.6 L883.7,800 L886.6,801.5 L888.8,802.5 L889.9,802.5 L892.8,802.7 L894.5,804.5 L895.5,803.9 L897.4,805 L899.5,805.3 L901.1,806.6 L902.8,807.4 L905.1,809 L908.3,807.4 L909.2,809.1 L910.7,809.4 L912.5,811.1 L915.2,811.6 L916.5,813.1 L918.4,811.7 L921,813.4 L922.6,812.4 L924.7,814.9 L925.7,814.9 L928.7,816.1 L930.6,815.4 L932.8,817 L934.6,816.1 L935.7,818.1 L938.4,817.3 L939.7,819.3 L942.7,818.5 L944.4,820.3 L945.7,820.6 L946.9,821.6 L950.2,821.2 L951.4,822.8 L953.3,821 L955.9,823.3 L957,821.3 L959.1,823.2 L961.6,822.9 L963.9,823.3 L966.1,821.3 L967.2,823.9 L969.5,823.1 L972,824 L973.4,822.4 L976,822.6 L976.7,819.9 L979.7,821.3 L980.8,819.1 L983.4,819.7 L984.5,818.9 L987,818.6 L988.3,817.4 L991.2,818.2 L992.3,816.3 L994,816.2 L997.6,816 L999.3,817 L1000.5,815.6 L1003.5,816.6 L1005.6,817 L1007.1,816.7 L1008.6,816 L1010.9,818.7 L1012.7,817.1 L1013.3,819.7 L1015.7,819.2 L1016.7,822.3 L1019.2,821.9 L1019.9,824.6 L1022.8,824 L1024.6,825.4 L1026.3,825.7 L1028.2,827.3 L1030.1,827.3 L1031.3,829.2 L1034,829.4 L1035.1,830.2 L1038.1,828.9 L1040.4,830.7 L1042.2,828.6 L1044.4,830.0" stroke-width="0.9"/>
<path d="M1427,521.4 L1427.8,522.8 L1426.6,524.7 L1427.4,527.5 L1427.5,529.9 L1428,531.2 L1427,533.9 L1427.7,537.1 L1426,537.9 L1426.5,541.5 L1425.2,543.5 L1426.2,545.1 L1424.3,547.7 L1424.8,550.3 L1423.8,550.9 L1423.2,553.8 L1421.9,555.6 L1421.3,558 L1420.6,559.5 L1420.2,562.4 L1419.2,563.1 L1418,566.3 L1417.1,566.7 L1415,569 L1412.5,569.7 L1412.1,571.3 L1409.2,572.3 L1407.3,574.2 L1405.3,575.2 L1403.9,577.1 L1403.7,577.9 L1403.2,581.2 L1402,582.5 L1401.1,585.9 L1400.3,586.5 L1400.1,588.3 L1397.7,591.2 L1396.8,593.1 L1394.3,593.4 L1393.9,596.6 L1392.2,596.9 L1390.7,599.1 L1389.7,599.7 L1390.2,602.8 L1388.9,604.4 L1388.9,606.5 L1387.5,608.6 L1388.2,611.5 L1385.3,611.3 L1384.4,612.9 L1382.1,613.3 L1379.7,612.2 L1378.4,611 L1375.6,610.1 L1374.1,607.7 L1373.4,607.4 L1371,605.3 L1369.7,604.2 L1366.8,604.6 L1364.7,606 L1363.6,605.8 L1361.3,608.1 L1358.7,607.5 L1357.5,609.1 L1355.2,609.3 L1353.7,610.5 L1350.4,611.3 L1349.2,613.1 L1346.9,611.3 L1344.3,610.6 L1342.9,609.9 L1341.2,609.9 L1339.4,607.6 L1335.9,608.7 L1334.5,607.5 L1332.3,609.6 L1330.2,609.5 L1328.3,611.4 L1325.9,611.5 L1324.1,613 L1322.4,613.8 L1321.6,614.8 L1318.8,614.8 L1317.3,613.8 L1316.7,612.6 L1314.6,610.9 L1313.7,608.1 L1311.8,607.6 L1310.2,606.4 L1308.6,607.6 L1305.4,608.4 L1303.9,609.8 L1301.9,609.6 L1301.2,611.3 L1297.4,612.1 L1297.9,614 L1297,616.9 L1297.2,618.6 L1295.5,619.9 L1294.9,623.2 L1292.8,623.2 L1291.3,625.8 L1289.3,626.8 L1288.8,628.8 L1287,630.5 L1286.9,633.2 L1285.5,634.9 L1285.3,637 L1283.7,639.1 L1284.2,640.3 L1282.2,642.3 L1281.2,642.5 L1278.9,640.7 L1275.9,640.8 L1273.9,639.3 L1272.5,639 L1269.6,638.4 L1269.6,639 L1267.6,641.8 L1267.8,643.6 L1265.4,646.1 L1265.5,648.2 L1263.6,648.5 L1262.1,648.1 L1260.4,646.9 L1258.7,648 L1255.8,649.5 L1254.3,650.3 L1251.9,651.4 L1251.4,652.4 L1248.9,652.5 L1247.2,651.3 L1246.8,649.3 L1244.7,649.1 L1241.4,649.5 L1240.6,649.6 L1237,649.8 L1235.9,650.7 L1232.4,650.5 L1230.3,651.7 L1228.3,652.2 L1227.1,653.1 L1224.9,652.3 L1222.4,653.5 L1221.2,654 L1221.2,657.5 L1220.2,659.2 L1221.1,661.3 L1219.7,662.7 L1220.5,666.3 L1218.9,668.3 L1219.1,669.3 L1216.2,670.1 L1214.1,672.1 L1212.2,673.4 L1213,675.2 L1211,678.2 L1211.7,680.1 L1211.3,681.2 L1212,683.9 L1208.9,683.8 L1208,684.5 L1204.7,683.2 L1202.8,683.6 L1200.6,682.3 L1198.7,683 L1195.9,681.3 L1194.4,682.7 L1192.9,684.9 L1191.6,687 L1189.4,688 L1188.9,689.8" stroke-width="0.9"/>
<path d="M1019.5,999.2 L1015.5,1001.6 L1014.1,1002.4 L1011.9,1004 L1007.6,1006.5 L1005.9,1007.5 L1003.2,1009.1 L1000.6,1010.8 L999,1011.8 L994.9,1014.3 L992.6,1015.5 L991.4,1016.5 L987.1,1018.5 L984.8,1019.8 L983.1,1020.6 L980.2,1022.2 L975.7,1024.2 L974.5,1025.2 L971.3,1026.9 L969.9,1028.2 L966.6,1030.7 L963.7,1033 L962,1034.3 L959.8,1036.1 L957.1,1037.9 L954.9,1040.6 L952.7,1042.8 L950.6,1045.9 L948.6,1047.7 L947.3,1050 L945.1,1052.2 L943.1,1054.7 L941.8,1057 L941,1060.3 L939.4,1063.2 L938.4,1066.4 L937.4,1068.6 L936.8,1071.2 L935.3,1074 L934.6,1076.8 L933.8,1080.5 L934,1082.6 L933.9,1087.1 L934.2,1089.3 L933.8,1091.7 L934.1,1095.1 L933.9,1097.7 L935,1101.5 L935.5,1104.1 L936.3,1106.5 L936.9,1110.1 L938,1113.5 L938.3,1115.1" stroke-width="1.2"/>
<path d="M289.4,168.4 L290.9,168.4 L290.2,170.6 L292.4,170.7 L292.2,172.7 L293.5,173.4 L294.5,175.9 L295.8,175.4 L296.6,177.3 L297.6,178.4 L296.7,179.5 L296.8,181.5 L295.7,181.7 L294.8,183.5 L293.1,183.3 L293.2,185.9 L290.7,185.1 L290.1,188.1 L288.7,187.4 L287.8,189.9 L285.7,189.3 L285.6,191.3 L283.3,191.3 L284.2,193.2 L281,193 L281.3,194.9 L280.1,196.2 L281,195.6 L283.2,196.2 L284.8,195.4 L286.4,196.4 L286.7,194.1 L288.7,195.2 L287.9,196.1 L286.2,197 L286.7,199.1 L284,199.1 L283.9,199.7 L282.7,201.4 L282.4,202.8 L280.5,203.3 L281.5,206 L278.8,206.3 L280.7,206.5 L281.8,208.4 L284.1,206.8 L284.4,208.5 L286.8,206.6 L287.6,209.4 L289.5,207.2 L290.6,207.1 L292.4,206.3 L293.8,206.7 L294.5,205.1 L296.6,205.7 L297.1,203.3 L299.3,203.2 L297.7,201.3 L300.6,200.8 L300.1,199.1 L302.1,197.5 L301.6,196.4 L302,194.1 L301.2,193.1 L303,191.4 L301.1,190.1 L302.3,188.4 L300.9,186.4 L303.2,186.3 L301.3,183.2 L304.4,182.9 L303.5,181.3 L305.8,180.1 L305.5,178.4 L306.5,179.6 L308.3,178 L310.4,178.7 L309.6,176.7 L310.5,175 L308.3,173.8 L309.8,172.8 L307.7,171 L307.9,170.1 L307.8,168.5 L309.9,166.8 L307,165.5 L309.8,164.1 L308.5,161.7 L310,160.6 L309.7,159.2 L308.9,158.2 L308.6,155.9 L310,154.9" stroke-width="1.3"/>
<path d="M292.5,146.8 L293.3,146 L294.8,146.7 L295.1,144.1 L297.2,145.4 L298.4,145.5 L299,147.7 L301.8,146.2 L302,148.5 L303.3,148.7 L302.7,149.9 L304.3,151.3 L302.2,152.9 L304.3,154.1 L302.8,155 L301.8,157 L300.1,156.6 L299.9,157.5 L298.8,157.2 L296.6,157.3 L296,155.1 L293.9,155.8 L294.5,154.2 L293.3,153 L294.4,151.3 L292.7,149.8 L292.7,147.9 L292,146.9" stroke-width="1.2"/>
<path d="M299.9,160.3 L300.6,161.7 L299.1,162 L299.8,163.9 L298,164.9 L299.5,166.3 L297.4,167.2 L298.7,168.7 L296.9,170.1 L299.1,170.8 L299,172.4 L299,174.3 L299.3,175.4 L300.5,176.9 L299.7,177.7 L301.4,178.7 L300,180.4 L301.6,182.3 L299,181.9 L300.3,184.1 L298.2,184.5 L298.8,186.1 L296,186.6 L298,189.6 L296.4,189.7 L296.6,190.7 L294.6,192 L295,193.4 L293.9,194.1 L294.4,196 L291.3,196.5 L293.7,198.8 L291.2,198.4 L292.5,200.7 L290,200.8 L289.5,202.2 L288.9,202.7 L287.7,204.4 L286.9,205.1" stroke-width="1.6"/>
<path d="M305,161.8 L305.9,163.1 L304.6,164.5 L304.4,165.8 L303.9,167.8 L304.1,168.5 L303.2,169.7 L303.8,171.8 L302.3,173 L303.9,173.8 L302.4,176 L304.7,176.7 L302.5,177.9 L304.5,179.1 L303.8,181.2 L305,182.1" stroke-width="1.5"/>
<path d="M294.2,150.1 L295.5,150.4 L296.7,151.5 L298.1,151.3 L298.8,152 L299.9,150.6 L301.4,151.5 L301.8,150 L300.2,150.7 L301.1,152.2 L299.8,153 L299.6,154.6 L298.2,154.7" stroke-width="1.6"/>
<path d="M284,196 L285.4,196.6 L286.7,197.1 L287.9,197.9 L288.6,197.9 L289.5,199.5 L288.5,199.9 L288.5,201.7 L286.9,202.2 L286.3,203.1 L284.1,202.2 L285.4,203 L285.7,203.9 L286.9,203.7 L288.4,205.1 L289.9,204.6 L291.2,205.0" stroke-width="1.6"/>
<path d="M249.7,199.7 L251.1,200.4 L251.9,202.2 L253.4,202.9 L251.7,204.8 L252.3,205.8 L249.7,206.2 L249.4,208.5 L248.7,209.2 L249,211.7 L249.6,212.8 L250.2,214.4 L248.4,215.1 L248.2,217.2 L247.5,219.1 L247.5,219.9 L246.8,221.3 L247.1,223.5 L246.7,224.8 L246.8,226 L245.4,227 L246.4,229.2 L245.5,230.6 L247.3,230.5 L248.7,231.4 L249.8,231.9" stroke-width="1.2"/>
<path d="M187.1,543.8 L189.3,544.2 L189.5,546.1 L190.3,546.7 L191.6,547.8 L193,547 L194.4,546.3 L195.6,546 L196.7,545.6 L198.5,545.7 L198.7,547.5 L201.3,547.4 L201.7,549.5 L203.9,550.2 L204.1,550.9 L206.2,551.4 L207,553.0" stroke-width="1.4"/>
<path d="M191.9,547.5 L193.3,549.4 L192.4,550.6 L193.8,552.6 L193.3,553.7 L194.5,555.5 L194,556.7 L195.3,558.2 L196,560 L197.1,561.1 L196.7,562 L198.6,563.2 L197.8,564.5 L198,566.8 L197.1,568.2 L197.6,570 L197,570.8" stroke-width="1.4"/>
<path d="M234.3,698.8 L236.5,700.4 L237.6,701.8 L240,702.8 L242.5,705.5 L244.5,706.9 L246.2,708.7 L247.6,709.6 L250.3,712 L251.9,713 L254.3,715.3 L255.5,716.2 L257.7,717.6 L259.7,718.8 L262.5,720.9 L263.6,721.2 L266.2,723.7 L268.3,724.3 L270.1,726.1 L272.8,727.5 L274.2,729.2 L275.3,730.9 L275.6,733.5 L277.2,737.2 L278.1,739.2 L279.7,740.9 L281.5,743.2 L283.7,744.7 L285.1,746.4 L286.7,746.9 L287.8,749.3 L290.7,751.3 L291.7,753.3 L293.8,754.4 L295.7,757.9 L297,759 L297.7,760.9 L299.9,763.8 L300.6,765.5 L301.7,767.1 L303.8,771 L304.7,772.5 L304.9,774.6 L305.1,777 L305.1,780 L305.9,782.6 L305.7,784.3 L306.5,787.8 L306.2,790.4 L306.4,792.1" stroke-width="1.6"/>
<path d="M183.4,533.1 L184.7,536.9 L185,538.8 L186.4,541.4 L186.7,542.6 L188,544.2 L189.7,547.7 L191.3,550.2 L191.4,550.9 L194,554.3 L194.6,556.4 L195.2,559.1 L194.5,560.1 L194.7,562.5 L193.7,565.2 L193.9,567.5 L194.9,570.3 L196,571.8 L197.2,575.3 L197.8,576.5 L199.1,579.6 L200,581.8 L200.4,583.7 L202,586.3 L202.6,588.7 L204.2,591.6 L203.3,592.5 L202.3,596.3 L201.3,597.6 L200.8,600.9 L199.5,603.1 L199.3,604.5 L197.6,607.9 L197.5,609.7 L197.3,612.5 L198.4,615.2 L198.8,616.5 L199.9,618.9 L200.6,621.1 L201.7,623.4 L202.7,627.4 L204.2,629.6 L203.9,630.6 L204.8,633 L205.6,635.2 L206.9,637.3 L208.4,640.9 L209.7,641.8 L210.3,644.9 L211.6,646.2 L212.7,649 L214.6,652.3 L215.5,654.5 L216.3,656.8 L216.3,658.4 L218,661.1 L217.8,662.4 L219.2,665.6 L219.4,667.3 L221.1,670.7 L221.1,672.7 L222.3,674.8 L221.5,678.2 L221.5,679.7 L220.9,682.6 L221.1,684.2 L220.5,686.7 L222.4,689.3 L223.6,691 L225.9,692.2 L227.6,694 L230,694.8 L231.3,696.8 L234.8,699.1" stroke-width="1.6"/>
</g>
<path d="M481.3,947.3 L486,953 L491.6,955.9 L498,956 L505.4,961 L519.2,968 L533,966 L546.8,969.7 L571,973 L588.2,976.6 L598.6,971.4 L619.3,980 L653.8,1156 L629.7,1164.7 L595,1173 L563.9,1180 L542.6,1190.6 L527.8,1203.4 L517,1220.4 L508.6,1239.5 L502.2,1256.6 L498,1273.6 L495.9,1286.3 L485.2,1299 L474.6,1307.6 L466,1318 L453.3,1324.6 L440.6,1333 L430,1341.6 L419.3,1345.9 L408.7,1341.6 L407.6,1339.5 L410.8,1333 L423.6,1322.5 L436.3,1316 L451.2,1301.2 L453.3,1290.6 L461.8,1265 L444.8,1273.6 L440.6,1263 L436.3,1277.8 L427.8,1265 L415,1263 L408.7,1269 L396,1267 L400,1258.7 L398,1243.8 L400,1233 L372.5,1231 L359.8,1212 L364,1201 L355.5,1180 L357,1178.5 L367.4,1164.7 L381,1150.9 L401.9,1147 L408.8,1140.5 L422.6,1137 L426,1123 L422.6,1113 L401.9,1116 L388,1109.5 L370.8,1102.6 L367.4,1092 L353.5,1078.4 L367.4,1068 L388,1061 L401.9,1064.6 L401.9,1075 L422.6,1076.7 L419,1057.7 L408.8,1047 L398.4,1030 L384.6,1012.8 L388,1002.5 L412,999 L419,988.7 L433,971.4 L457,961 L474.3,950.7Z" fill="#b6dbad" stroke="#505050" stroke-width="1.1" stroke-linejoin="round"/>
<path d="M417.4,997.3 L436.4,1002.5 L464,1006 L491.6,1004 L515.8,997.3 L533,985 L546.8,970.7 L533,966 L519.2,968 L505.4,961 L498,956 L491.6,955.9 L486,953 L481.3,947.3 L474.3,950.7 L457,961 L433,971.4 L419,988.7Z" fill="#98cc82" stroke="none"/>
<path d="M417.4,997.3 C420.6,998.2 428.6,1001.0 436.4,1002.5 C444.2,1004.0 454.8,1005.8 464.0,1006.0 C473.2,1006.2 483.0,1005.5 491.6,1004.0 C500.2,1002.5 508.9,1000.5 515.8,997.3 C522.7,994.1 527.8,989.4 533.0,985.0 C538.2,980.6 544.5,973.1 546.8,970.7" fill="none" stroke="#6f8f68" stroke-width="1.2"/>
<path d="M481.3,947.3 L486,953 L491.6,955.9 L498,956 L505.4,961 L519.2,968 L533,966 L546.8,969.7 L571,973 L588.2,976.6 L598.6,971.4 L619.3,980 L653.8,1156 L629.7,1164.7 L595,1173 L563.9,1180 L542.6,1190.6 L527.8,1203.4 L517,1220.4 L508.6,1239.5 L502.2,1256.6 L498,1273.6 L495.9,1286.3 L485.2,1299 L474.6,1307.6 L466,1318 L453.3,1324.6 L440.6,1333 L430,1341.6 L419.3,1345.9 L408.7,1341.6 L407.6,1339.5 L410.8,1333 L423.6,1322.5 L436.3,1316 L451.2,1301.2 L453.3,1290.6 L461.8,1265 L444.8,1273.6 L440.6,1263 L436.3,1277.8 L427.8,1265 L415,1263 L408.7,1269 L396,1267 L400,1258.7 L398,1243.8 L400,1233 L372.5,1231 L359.8,1212 L364,1201 L355.5,1180 L357,1178.5 L367.4,1164.7 L381,1150.9 L401.9,1147 L408.8,1140.5 L422.6,1137 L426,1123 L422.6,1113 L401.9,1116 L388,1109.5 L370.8,1102.6 L367.4,1092 L353.5,1078.4 L367.4,1068 L388,1061 L401.9,1064.6 L401.9,1075 L422.6,1076.7 L419,1057.7 L408.8,1047 L398.4,1030 L384.6,1012.8 L388,1002.5 L412,999 L419,988.7 L433,971.4 L457,961 L474.3,950.7Z" fill="none" stroke="#505050" stroke-width="1.1" stroke-linejoin="round"/>
<path d="M301.8,1116.4 L310.4,1123.3 L319,1123.3 L332.8,1133.6 L331,1138.8 L322.5,1140.5 L317.3,1130 L301.8,1125.0Z" fill="#b6dbad" stroke="#505050" stroke-width="1"/>
<path d="M332.8,1216.5 L346.6,1214.7 L353.5,1223.4 L346.6,1230 L336.3,1223.4Z" fill="#b6dbad" stroke="#505050" stroke-width="1"/>
<path d="M379,1351 L385,1343 L394,1339 L403,1337.5 L405.5,1344 L398,1348 L390,1352 L383,1356.0Z" fill="#b6dbad" stroke="#505050" stroke-width="1"/>
<path d="M340.6,1365 L347,1358.6 L357.6,1356.5 L364,1359.7 L362,1367 L351,1370.3 L342.8,1371.4Z" fill="#b6dbad" stroke="#505050" stroke-width="1"/>
<path d="M319,1375 L327,1370.5 L336,1371.5 L334,1377 L324,1379.0Z" fill="#b6dbad" stroke="#505050" stroke-width="1"/>
<path d="M298,1380.5 L306,1376 L315,1377 L312,1384 L302,1386.0Z" fill="#b6dbad" stroke="#505050" stroke-width="1"/>
<path d="M271,1391 L280,1386 L290,1382.5 L295,1385.5 L288,1391.5 L276,1395.5Z" fill="#b6dbad" stroke="#505050" stroke-width="1"/>
<path d="M252,1392.5 L257,1389.5 L262,1390.5 L259,1394.5 L254,1395.0Z" fill="#b6dbad" stroke="#505050" stroke-width="1"/>
<g fill="none" stroke="#505050" stroke-width="1" stroke-linejoin="round">
<path d="M499.5,1287 L503,1271 L510,1253 L519,1235 L526,1222 L534,1211 L545,1202 L552,1199 L555.4,1201 L548,1205 L542.6,1207.6 L534,1218 L531,1233 L534,1243.8 L529.9,1254.4"/>
<path d="M574.6,1233 L581,1239.5 L589.4,1231 L600,1227 L612,1231 L623.5,1233 L632,1230 L650,1229 L664.2,1226.8 L685,1230.0"/>
<path d="M653.8,1156 L664.2,1226.8"/>
<path d="M685,1230.2 L707.2,1227.2 L714.4,1232 L718,1239.2 L724,1232 L729.4,1224.8 L728.8,1218.8 L738.4,1211 L745.6,1215.2 L746.8,1220 L755.2,1223.6 L760,1229.6 L772,1235.6 L784,1247.6 L798.3,1260.8 L800.7,1266.8 L807.9,1271.6 L819.9,1275.2 L837.9,1278.8 L840.3,1287.2 L845.7,1296.8 L842.7,1311.2 L837.9,1314.8"/>
<path d="M685,1230.2 L697.6,1235.6 L712,1242.8 L719.2,1248.8 L731.2,1252.4"/>
<path d="M500.1,1265.1 L506.5,1264 L510.8,1269.3 L508.6,1275.7 L502.2,1279.9 L499.1,1274.6 L500.1,1265.1"/>
</g>
<g fill="none" stroke="#474747" stroke-linejoin="round" stroke-linecap="round">
<path d="M529.7,1254.3 L532.2,1254.6 L531.1,1257.2 L532.6,1257.5 L534,1258.8 L534.9,1257.5 L536.4,1257.5 L536.8,1255.1 L539.1,1256 L538.5,1253 L541.2,1254.5 L541.5,1251.8 L543.3,1253.2 L543.5,1250.4 L546.5,1251.8 L547.2,1249.9 L548.1,1249.2 L548,1246 L549.1,1246.7 L550.5,1245.8 L552.8,1245.7 L552.8,1243.3 L555.1,1243.9 L555.5,1242.3 L556.8,1242.3 L556.6,1239.7 L559.4,1240.9 L559.2,1237.7 L561.2,1239 L562.4,1237.5 L564.4,1237.9 L565.2,1235.5 L566.6,1236.9 L566.9,1233.7 L569.7,1236.7 L570.3,1232.2 L571.9,1235.7 L573.1,1233.3 L574.8,1233.1" stroke-width="1.5"/>
<path d="M574.6,1227.9 L576.2,1227.8 L576.2,1229.6 L577.7,1229.9 L577.4,1230.4 L580.2,1231.5 L577.7,1233.1 L578,1234.2 L577.2,1235.9 L579.3,1235.2 L579,1237.1 L580.6,1237.2" stroke-width="3.0"/>
<path d="M580.7,1239.8 L581.7,1238.9 L583.5,1237.3 L584.7,1236.3 L586,1235.3 L586.2,1234 L587.7,1232.8 L587.6,1231.5 L589.2,1231.3" stroke-width="1.2"/>
<path d="M551.6,1207.9 L553,1208.6 L553.5,1210.3 L555.5,1210.7 L555.7,1211.7 L558.2,1212.1 L558.7,1212.7 L561.5,1212.7 L562.5,1213.9 L564.2,1214.1" stroke-width="1.2"/>
<path d="M517.1,1220.7 L517,1222.2 L516,1222.7 L516.6,1225.4 L515.7,1226.3 L516.5,1227.5 L515.2,1229.6 L515.9,1231 L513.9,1232.1 L513.9,1233.3 L512.5,1235.1 L513.2,1236.2 L511.9,1237.2 L512.2,1238.9 L509.4,1239.8 L510.5,1241.9 L508,1242.3 L508.4,1244.7 L507,1245.1 L507.4,1247.5 L506.8,1247.9 L506.9,1250.6 L503.6,1250 L504.4,1252.2" stroke-width="1.0"/>
<path d="M522.1,1274.3 L525,1274.4 L524.7,1276.8 L526.2,1276.9 L524.6,1279.6 L529.2,1277.2 L526.6,1281.4 L530.9,1280.1 L528.4,1282.9 L531.5,1283.2 L529.3,1284 L530.1,1286.1 L528,1286.2 L529.4,1288.1 L527,1288.1 L527.5,1290.3 L525.7,1291.2 L528.7,1292.9 L525,1292.9 L527,1295.1 L524.3,1295.8 L527.8,1296.9 L523.4,1299 L528.4,1298.5 L524.8,1301.1 L528.6,1303.2 L524.5,1302.6 L524.9,1304.3 L522.4,1303.8 L525.7,1308.5 L521.1,1306.3 L521,1307.7 L519.5,1308.2 L519.4,1310.5 L517,1307.3 L516.5,1310.7 L513.6,1309.1 L514.6,1311 L513,1311.4 L513.7,1313.6 L510.8,1313.2 L512.3,1315.8 L508.9,1315.3 L510.3,1318.1 L507.7,1316.6 L508,1320.7 L505.6,1318.3 L504.8,1320.5 L504.5,1318.5 L502.4,1320.5 L502.2,1316.3 L499.9,1318.1" stroke-width="1.6"/>
<path d="M519.5,1279.6 L520.5,1282.7 L517.9,1282.5 L518.7,1284.2 L514.5,1283.5 L517.4,1286.5 L513.8,1286.2 L513.6,1287.2 L513.7,1289.3 L512.7,1290.5 L511.4,1290.3 L512.5,1293.5 L510.2,1293 L511.3,1296.3 L507.8,1294.7 L508.1,1296.5 L507.7,1297.3 L506.9,1298.4 L509,1298.9 L510.8,1298.5 L510.9,1300.5 L512.7,1300.7 L512.1,1302.9 L515.8,1301.2 L512.9,1305.9 L516.5,1304.4 L517,1305.3" stroke-width="1.5"/>
<path d="M500.4,1318.5 L497.9,1317.3 L498.3,1316.2 L496.1,1314.5 L496.6,1313 L494.8,1311.4 L494.8,1310.3 L492.6,1309.4 L493,1307.6 L493,1305.3 L494.4,1304.4 L494.3,1303.1 L496.4,1302.3 L496.6,1300.4 L498.6,1300.9 L499.5,1299.4 L501.2,1298.3 L502.6,1296.6 L504.1,1296.2 L505.6,1294.7 L506.8,1294.4 L506.4,1292.3 L508.2,1292.1" stroke-width="1.2"/>
<path d="M491.2,1329 L492.5,1328 L494.1,1328.5 L495.5,1327.3 L497.4,1327.2 L499,1326.3 L500,1327.8 L501.3,1326.2 L503.9,1326.7" stroke-width="1.4"/>
<path d="M495.8,1286.4 L496.4,1288.7 L493.1,1288.3 L494.3,1290.5 L492.3,1290.2 L492,1292.2 L489.9,1291.7 L490.9,1295 L488.6,1295.3 L488.3,1297.2 L487,1297.1 L487.3,1299.1 L484.7,1298.4 L483.9,1301.1 L481.8,1300.2 L481.6,1302.3 L480.5,1302.5 L480.7,1304.7 L478.1,1303.6 L477.6,1306.1 L475.5,1306.3 L475.7,1307.4 L473,1308 L473.4,1309.5 L471.8,1309.4 L472.1,1311.4 L470,1312.7 L470.3,1314.1 L467.5,1314.5 L468.5,1316.5 L465.5,1315.2 L466.2,1318.1 L465.3,1318.4 L463.9,1319 L461.9,1318.7 L461.6,1322.1 L459.4,1320.6 L458.3,1321.5 L457,1322.3 L456.4,1324.6 L454.6,1323.6 L454,1324.5 L452,1323.9 L451.7,1326 L450,1326.1 L449.5,1328.1 L446.7,1327.6 L447.9,1330.5 L445,1328.8 L445.1,1332.9 L442,1330.7 L442.1,1332.4 L439.3,1331.2 L440.7,1335 L437.8,1334.3 L437.4,1336.4 L436.1,1336.1 L436,1337.8 L433.9,1338.7 L433.1,1339.1 L430.7,1339.2 L431,1340.7 L429.1,1341.4 L429.1,1343.6 L426.8,1341.3 L425.5,1344.3 L424,1343.2 L423.6,1345.5 L420.5,1342.9 L420.1,1346.4 L418.6,1344.6 L417.1,1345.4 L416,1345 L415.2,1344.8 L413.8,1343.5 L411.7,1346.3 L411.1,1343.8" stroke-width="1.4"/>
<path d="M449.2,1328.7 L450.5,1331.1 L446.7,1330.2 L449.4,1333.9 L446,1333 L445.8,1335.4 L443.4,1334.8 L443.2,1337 L442.1,1336.8 L440.3,1337.7 L439.5,1338 L439.6,1340.2 L437.3,1340.7 L436.9,1342.1 L433.2,1340.2 L434.1,1343.7 L432,1343.1 L432.4,1346 L430.3,1344.8 L429.4,1347.1 L427.6,1345.8 L426.9,1348.4 L424,1345.3 L426.1,1350.9 L422.4,1348.7 L423.4,1351.6 L420.8,1350.6 L420,1351.4 L418.1,1352.1 L417.7,1354.4 L416.9,1355 L416,1356.3 L413.8,1356.8 L416.3,1358.2 L416.6,1360 L418.8,1359.2 L418.8,1362.1 L420.2,1360.8 L419.2,1363.5 L421.9,1364.5 L418.9,1363.5 L419.8,1366.8 L419.1,1367.3 L417.3,1368.0" stroke-width="1.5"/>
<path d="M410.6,1356.7 L410.3,1358 L407.9,1357.4 L408.8,1360.7 L406.5,1359.3 L404.6,1360.9 L405.1,1357.4 L401.6,1358.6 L402.7,1356.9" stroke-width="1.3"/>
<path d="M368,1354 L369,1355.2 L369.9,1356.3 L370.8,1357.8 L371,1360 L372.4,1359.6 L373.5,1360.2 L374.6,1358.7 L376.2,1359.1 L376.4,1357.9 L378.5,1357.4 L379.2,1355.4 L381,1356 L381.9,1353.9 L383.2,1354.7 L384.6,1354.5 L386.3,1354.7 L387,1352.2 L388.4,1353 L390,1352 L391.7,1351.2 L392.3,1349.2 L393.9,1350.5 L395,1348.9 L396.3,1349.3 L397.7,1349.1 L399.7,1350.7 L400.6,1347.1 L402.6,1347.9" stroke-width="1.3"/>
<path d="M364.3,1356.9 L364.8,1357.3 L365.9,1359.6 L366.8,1359.6 L366.8,1361.5 L369.3,1363 L367.1,1363.6 L367.3,1365.8 L366.3,1366.8" stroke-width="1.3"/>
<path d="M370.8,1372.7 L371.9,1373 L372.3,1374.4 L374.1,1374.5 L375.6,1375.5" stroke-width="2.0"/>
<path d="M329.7,1372.2 L331.7,1373.2 L331.8,1375.6 L333.1,1375 L333.7,1377 L335.1,1376 L337.2,1375.9 L338.5,1374.5 L339.9,1374.5" stroke-width="1.3"/>
<path d="M461.4,1265.3 L460.1,1266.3 L459.3,1266.4 L458.1,1267.5 L455.9,1267.2 L454.9,1269.4 L452.6,1268.6 L451.8,1270.9 L450.2,1269.9 L449.4,1272.2 L447.5,1271.6 L446,1274 L444.6,1273.1 L443.7,1271.9 L444.1,1270.8 L442.2,1269.7 L442.9,1267.4 L441.7,1266.3 L441.5,1264.1 L440.8,1264 L440.2,1264 L440.2,1265.8 L438.7,1268 L439.1,1268.7 L437.3,1271 L438.5,1272.5 L437.2,1273.3 L437.6,1275.3 L436.4,1276.4 L435.9,1277.7 L435.1,1275.7 L433.2,1274.8 L434.1,1273 L431.8,1272 L431.8,1270.4 L430.4,1269.5 L430.1,1267.7 L427.8,1267 L428.4,1265.1 L426.3,1265.2 L424.6,1264.1 L423.2,1264.5 L422,1263.7 L420.9,1263.8 L418.7,1263.2 L417.6,1263.7 L416.2,1263.3 L415.1,1264.1 L412.8,1264.6 L412.3,1265.9 L410.9,1266.3 L410.4,1268.2 L408,1269 L407.5,1269.5 L405.4,1268.8 L403.9,1268.9 L402.9,1267.4 L400.9,1268.7 L399.4,1267.4 L397.4,1268.4 L395.4,1267.1" stroke-width="1.0"/>
<path d="M724.4,1235.9 L725.5,1235.7 L725.8,1236.7 L728.1,1236.3 L727.1,1240.5 L730.5,1237.6 L729.7,1241.4 L732.2,1239.4 L732.1,1242.3 L734.5,1241.3 L733.4,1244.6 L736.7,1243.2 L736,1245.6 L736.7,1245.7 L737.3,1247.6 L741.4,1246.6 L738.2,1248.5 L739.2,1249.6 L736.1,1250.1 L739,1252.5 L737.1,1253.8 L737.3,1254.6 L736.1,1256 L735.8,1256.8 L737,1258.1 L739.9,1256.9 L737,1261.7 L741.7,1259.5 L739.4,1262.1 L741.3,1262.8 L740.4,1264.6 L743.1,1264.4 L741.6,1266.9 L743.9,1268 L743.5,1269.6 L745,1269.3 L745,1271.7 L747.9,1270.6 L747.2,1272.7 L750.5,1271.4 L747.2,1275.8 L752.6,1272.8 L750.7,1276.9 L753.8,1275.3 L752.2,1279.2 L754.8,1277.8 L755,1280.3 L756.6,1279.8 L755.6,1283.1 L759.8,1281.4 L757.1,1285.4 L759.6,1284.6 L759.9,1286.4 L762.5,1284.7 L762.5,1287.5 L764.8,1286.4 L763.9,1289.8 L766.7,1288.4 L765.3,1291.8 L768.4,1291 L768.3,1293.1 L771.6,1291.4 L770.5,1294.4 L772,1294.7 L770.4,1298.3 L772.8,1296.4" stroke-width="1.9"/>
<path d="M741.9,1218.5 L743.4,1219.6 L742,1221.2 L744.2,1221.6 L743.5,1224 L745.6,1224.5 L744.4,1226.4 L745.1,1226.9 L744.6,1229.3 L746.4,1229.4 L747,1230.5 L747.1,1231.7 L747.5,1233.1 L749.4,1234.3 L749.2,1235.2 L751.1,1236 L750.3,1238.1 L752.7,1238.5 L752.2,1240 L753.8,1240.3 L752.7,1242.6 L755.6,1242.2 L755.5,1244.6 L757.9,1244.6 L757.3,1246.4 L759.6,1246.4 L758.3,1248.1 L760.8,1248.9 L759.2,1251 L761.7,1251.5 L761.2,1252.8 L762.2,1253.7 L761.6,1255.7 L763.7,1255.7 L762.8,1257.8 L765.2,1258.1 L764.4,1259.5 L765.8,1261 L765.2,1262 L767.6,1262.9 L766.7,1264.1 L768,1265.3 L767.8,1266.7 L769.6,1267.8 L769.2,1268.7 L770.6,1270.6 L769.5,1272 L772.2,1272.8 L771.4,1273.5 L773.5,1274.8 L770.3,1276.6 L772.6,1278.2 L772.1,1279 L773.2,1279.9 L772.3,1281.5 L774.4,1283.3 L773,1283.9 L773.9,1285.5 L772.9,1286.8 L774.5,1288.4 L773.6,1289.6 L775.4,1291 L774.3,1291.7" stroke-width="1.7"/>
<path d="M765.9,1237.6 L767.4,1238.7 L766.6,1240.6 L768.3,1242 L766,1242.8 L770.2,1243.6 L765.2,1246.2 L769.2,1245.6 L766.3,1249.2 L770.3,1248.7 L768.2,1251.4 L771.2,1251.5 L770.5,1252.8 L774,1252.6 L771.7,1255.2 L773.5,1256.1 L773,1257.2 L775.7,1257.3 L774.7,1260.2 L777.3,1258.5 L775.9,1261.3 L778,1262.5 L777.8,1263.9 L779.8,1263.6 L781.4,1264.7 L783.8,1263.9 L782.6,1266.1 L784.2,1266.9 L783.3,1269.3 L787.1,1267.3 L786.2,1269.7 L788,1270.5 L787.5,1273 L790.1,1271.9 L788.6,1275.3 L792.2,1273.7 L790.4,1276.9 L794.3,1274.8 L792.3,1279.6 L796.2,1277.1 L795.1,1279.9 L797.6,1279 L796.7,1281.9 L799.5,1280.5 L798.2,1284.1 L802.7,1282 L800.8,1285.8 L803.4,1284.2 L801.9,1288.3 L806,1285.9 L804.2,1289.7 L807,1288.5 L806,1291.4 L808.8,1290.3 L807.9,1293.3 L810.1,1293.4 L810.4,1294.5 L812.2,1293.7 L812.5,1295.3" stroke-width="1.9"/>
<path d="M776.9,1273.1 L777.7,1273.6 L777.7,1275.3 L778.8,1275.7 L777.7,1277.9 L780.3,1278.4 L779.7,1280 L780.4,1281.3 L780.4,1282.3 L782,1283.5 L779.5,1285.8 L782,1286.6 L781.4,1288.1 L783.7,1289 L781,1291 L783,1290.9 L781.7,1293 L783.9,1293.3 L781.4,1296.2 L784.7,1296.1 L781.7,1297.4 L785,1300.4 L781.3,1299.3 L782.6,1302.2 L781.4,1303.1" stroke-width="2.2"/>
<path d="M788.5,1287.9 L790.6,1288.7 L788.6,1291.1 L791.3,1291 L789.5,1293.8 L794.2,1293 L790.3,1296.2 L792.9,1296.8 L793.6,1297.7 L795.6,1299.3 L794.1,1300.5 L795.6,1301.3 L793.3,1303.3 L796.2,1303.6 L795,1305.6 L797,1306.3 L794.6,1309.7 L798.8,1308.5 L796.4,1311.8 L800.4,1310.4 L798.5,1312.7 L800.6,1313.5 L799.7,1315.9 L804.4,1313.1 L801.9,1317.7 L804.4,1317 L803.8,1319.3 L806.7,1318.7 L804,1322.7 L808.9,1319.7 L809.1,1322.2 L810.9,1321.1 L809.6,1326 L811.4,1324.5 L813,1325.7" stroke-width="2.2"/>
<path d="M801,1274.4 L801.1,1275.9 L801.4,1276.2 L804,1276 L802,1279.4 L805.8,1279 L805.8,1279.8 L806.8,1281.4 L804.9,1283.4 L808.1,1283.2 L806.7,1286 L810.6,1284.7 L809,1287.8 L812.8,1286.3 L808.9,1289.9 L812.3,1289.3 L811.3,1292.5 L812.1,1292.6 L812.3,1294.7 L816.3,1293.7 L814.1,1296.1 L817.2,1296.5 L814.2,1299.3 L818.6,1298.5 L815.6,1301.1 L817,1301.8 L817.3,1302.9 L820.8,1303.5 L819,1305.8 L822,1306.1 L818.3,1308.3 L820.9,1308.8 L819.1,1310.8 L822,1311.6 L820.3,1313.4 L822.4,1313.7 L820,1316.4 L822.7,1316.3 L820.9,1319 L822.3,1319.3" stroke-width="2.0"/>
<path d="M817.7,1286.1 L819.6,1284.9 L818.9,1289.4 L821,1287.2 L821.7,1289 L823.9,1288.9 L823.5,1290.8 L825.8,1290.6 L825.3,1293 L827.1,1293.9 L826.6,1294.8 L828.3,1295.3 L827.2,1298.5 L830,1297.4 L829.3,1299.7 L832.1,1299.9 L829.5,1302.3 L831.8,1303.4 L831.3,1304.9 L832.8,1305.8 L831,1307.5 L832.8,1308.3 L829.6,1309.9 L831.4,1310.8 L830.8,1312.1" stroke-width="1.8"/>
<path d="M831.9,1290.7 L834.2,1291.4 L832.5,1293.9 L835.7,1293 L834.5,1295.2 L835.9,1295.8 L836.7,1296.8 L838.1,1298.2 L835.4,1300.7 L838.4,1301.1 L838.1,1302.8 L838.9,1303.6 L838.9,1305.1 L840.2,1305.5 L838.7,1307.2 L840.8,1308.8 L840.5,1310.3 L841.7,1311.3 L841.6,1312.7" stroke-width="1.5"/>
<path d="M747.7,1254.7 L749.1,1254.1 L750.7,1255.1 L751.9,1254.3 L753.3,1256.8 L754.5,1257.1 L754.7,1259.1 L756.3,1258.1 L756.5,1259.5 L757.4,1260.8 L756.1,1261.9 L759.2,1264 L756.5,1263.2 L757.8,1265.8 L754.8,1265.5 L757.2,1266.4 L755.2,1268.6 L757.5,1269.6 L757.3,1270.4 L760,1270.3 L757.4,1273.5 L760.1,1274.1" stroke-width="1.6"/>
<path d="M773,1247.5 L774.9,1246.2 L775.8,1249.5 L776.8,1248 L778,1250.1 L780.2,1247.2 L779.8,1251 L781.5,1251.3 L780.5,1254.1 L783.4,1253.1 L782.7,1255 L785.4,1254.2 L784.8,1256.7 L787.8,1256.5 L786.2,1259 L788.8,1259.2 L787.9,1260.5 L789.9,1261.2 L788.9,1264 L789.8,1264.0" stroke-width="1.6"/>
<path d="M731.4,1235.7 L733.1,1235.3 L733.3,1238.3 L735.6,1235.7 L735.8,1238 L738.6,1238.3 L737.2,1240.5 L737.9,1241 L738.4,1242.9" stroke-width="1.6"/>
<path d="M808.1,1310.2 L809.4,1310.2 L808.4,1312.8 L810.9,1313 L810.8,1313.9 L812.9,1314.1 L811.9,1317.3 L812.7,1317.6 L813.3,1319.3 L815.4,1319.6 L814.1,1322 L816.4,1322.0" stroke-width="2.2"/>
<path d="M481.5,947.6 L483.1,947.9 L483.4,950.2 L484.2,950.4 L484.4,952 L486.8,952.6 L486.8,954.3 L488.7,954.5 L490.7,955 L491.5,955.3 L492.6,956.1 L495,954.9 L496.4,956.8 L497.4,955.1 L498.2,956.6 L500.2,956.8 L500.9,958.7 L502.7,958.1 L503.3,960 L504.7,960.2 L505.9,962.2 L508.1,962 L509,963.3 L511.1,963.2 L511,964.8 L512.9,964 L514.4,965.7 L516.2,965.4 L516.5,966.8 L518.6,966.9 L519.3,969.3 L521.5,966.5 L522.9,967.5 L524.6,966.7 L526.1,966.9 L527.7,966.8 L528.9,966.9 L530.7,965.6 L531.2,966.4 L533.6,965 L535.1,966.8 L535.7,966.1 L537.9,967.6 L538.8,967.2 L540.4,968.6 L541.4,967.8 L543.3,969.6 L545.2,968.4 L546.7,969.7 L547.5,968.7 L549.2,970.3 L550.7,969.8 L552.3,970.7 L553.7,970.4 L555.2,971.5 L557.1,970.8 L558.4,971.2 L559.9,970 L561.6,972.1 L562.7,971.4 L563.4,973 L565.6,972.4 L566.5,973 L568.4,972.1 L569.6,972.6 L571.6,972.5 L573.1,973.6 L574.4,973.7 L576.4,974.4 L577.2,973.8 L578.5,975.2 L580.9,974.2 L582.1,975.8 L583.9,974.2 L584.6,976.4 L586.2,976.5 L587.3,976.7 L589.1,976.1 L590.2,975.9 L591.6,975.1 L592.9,975.1 L594.3,972.5 L596.1,973.6 L596.9,972.5 L599.1,972.6 L599.7,971.7 L600.7,972.8 L602.7,972.6 L604,974.2 L606.1,974 L606.6,975.2 L608,975.1 L609.7,976.6 L611.4,976.4 L611.8,978 L613.8,978.2 L614.4,978.8 L617.3,978.2 L617.9,980.5 L619.4,980.0" stroke-width="1.1"/>
<path d="M363.9,1205.8 L363.7,1204.4 L364.6,1203.4 L364.4,1201 L365.8,1200.2 L365.8,1197.5 L366.7,1196.3 L365.8,1195.1 L367,1193.5 L367.1,1191.8 L367.1,1190.5 L365.5,1189.6 L364.4,1187.8 L363.6,1187.3 L362.4,1185.8 L361.2,1184.1 L360.6,1182.7 L358.9,1182.7 L358.3,1180.5 L357.2,1179.5 L357.9,1177.9 L357.6,1176.5 L359.9,1175.1 L360.2,1173.6 L362.3,1172.7 L362.2,1170.5 L364.3,1169.9 L363.4,1168.5 L366.4,1167.5 L366,1166 L367.7,1164.9 L368,1163.8 L369.5,1162.4 L370.2,1161.6 L372.5,1160.1 L373,1158.2 L373.8,1158.1 L375.2,1155.8 L376.3,1156.2 L377.1,1154.5 L378.6,1153.8 L379.7,1152.6 L381.4,1150.5" stroke-width="1.0"/>
</g>
<g fill="none" stroke="#4a4a4a" stroke-width="1.1" stroke-linejoin="round">
<path d="M10,1308.5 L10.1,1309 L9.9,1310.6 L10.2,1311.4 L10.7,1312.5 L12.2,1313 L13.1,1314.2 L14.2,1314.2 L15.7,1314.8 L15.5,1314.7 L16,1312.8 L15,1312.3 L15.9,1310.8 L14.1,1309.9 L13.3,1308.8 L11.8,1308.8 L11.6,1308.4 L10.3,1308.1"/>
<path d="M21.1,1304.7 L20.7,1306.1 L20.3,1307.8 L20.9,1308.1 L21.9,1309.2 L23.3,1308.8 L24.1,1308.7 L24.2,1306.9 L24.9,1306.2 L23.7,1305.7 L22.7,1304.8 L21.1,1305.0"/>
<path d="M56.9,1347.9 L57.7,1348.5 L58.5,1350 L59.9,1350.4 L60.6,1351.4 L61.8,1350.9 L63.6,1351.1 L64.6,1350.6 L66.1,1350.5 L67,1349.7 L66.1,1348.6 L65,1348.5 L64.3,1347.9 L62.6,1347.4 L62.1,1347.2 L60.8,1347.5 L59.6,1347.1 L58,1348 L57.2,1347.9"/>
<path d="M72,1353.8 L72.5,1355.5 L72.3,1356.2 L73.3,1357 L74,1358.1 L75,1358 L77.1,1358.3 L77.6,1357.8 L77.8,1357.3 L76.9,1356 L76.8,1354.1 L75.3,1354.1 L74.1,1353.6 L73.3,1353.9 L71.8,1354.0"/>
<path d="M77,1365.3 L77.5,1366.6 L77.1,1367.8 L78,1368.1 L77.2,1369.6 L78.8,1370.7 L79.2,1371.6 L80.2,1372.5 L81.1,1373.7 L81.9,1374.3 L82.7,1375 L83.6,1375 L85.2,1376.2 L84.4,1374.8 L84.8,1373.3 L83.8,1372.5 L83.7,1371 L83.3,1370.3 L82.9,1368.9 L81.4,1368.3 L81.6,1367.7 L80.4,1367.1 L79.6,1366.1 L78.4,1365.8 L76.7,1364.8"/>
<path d="M105.2,1378.3 L105.4,1378.8 L105.6,1380 L107,1380.7 L107.5,1382.7 L108.8,1382.9 L109.8,1383.7 L110.3,1383.8 L111.2,1384.6 L112.8,1384.9 L113.9,1385.5 L115.6,1385.5 L116.8,1386.1 L116.6,1385.3 L116.2,1384.5 L114.9,1383.9 L114.5,1382.3 L113.8,1381.6 L113.4,1380.6 L111.6,1380.4 L110.5,1379.4 L109.3,1379 L108.9,1378.4 L107.1,1378.7 L105.8,1377.9 L104.8,1378.0"/>
<path d="M124,1378.1 L124.5,1378.9 L124.6,1380.4 L125.8,1381.1 L126.7,1381.5 L127.6,1381.5 L129.5,1381.7 L130,1381.2 L130.7,1380.9 L129.7,1379.4 L129.7,1378.2 L128.9,1378 L127.8,1377.5 L126.7,1377.5 L124.9,1377.3 L123.8,1378.0"/>
<path d="M155.1,1385.3 L155.8,1386.3 L155.7,1387.1 L156.7,1387.8 L157.8,1388.4 L158.7,1388.8 L159.8,1388.6 L161.2,1387.8 L161.6,1387.3 L160.9,1386.8 L160.8,1385.1 L160,1385.1 L158.3,1384.1 L157.1,1384.8 L156.4,1384.3 L155,1385.0"/>
<path d="M92.9,1362.4 L92.9,1363.6 L92.8,1364.4 L94.1,1363.7 L95.4,1363.7 L94.9,1361.9 L94.5,1361.6 L92.7,1362.1"/>
<path d="M42.7,1328.4 L42.2,1329.2 L42.3,1329.9 L44,1329.8 L44.9,1329.2 L43.9,1328.2 L43.2,1328.0"/>
<path d="M139.9,1387.9 L140.7,1389 L141.7,1390.3 L142.1,1390.3 L143.9,1390.6 L144.4,1390.3 L146,1389.7 L146.9,1388.5 L146.4,1388 L145.2,1387.5 L144.9,1386.5 L143,1386.9 L142.1,1386.2 L141,1387.7 L140,1388.0"/>
<path d="M171.8,1389.8 L172.6,1390.7 L173.7,1392.4 L174.5,1392 L176.4,1393 L177.2,1392.2 L178.2,1392.3 L179.5,1391 L180,1390.8 L178.8,1389.9 L178.1,1388.8 L176.8,1388.7 L175.1,1388.4 L174.2,1389.1 L173.2,1388.8 L172,1390.0"/>
</g>
<text x="652.3" y="347" font-size="42" font-weight="700" text-anchor="middle" stroke="#fff" stroke-width="7" stroke-linejoin="round" paint-order="stroke" fill="#000">Above</text>
<text x="1299" y="610" font-size="42" font-weight="700" text-anchor="middle" stroke="#fff" stroke-width="7" stroke-linejoin="round" paint-order="stroke" fill="#000">Above</text>
<text x="523.5" y="809" font-size="42" font-weight="700" text-anchor="middle" stroke="#fff" stroke-width="7" stroke-linejoin="round" paint-order="stroke" fill="#000">Below</text>
<text x="1415.5" y="900" font-size="42" font-weight="700" text-anchor="middle" stroke="#fff" stroke-width="7" stroke-linejoin="round" paint-order="stroke" fill="#000">Below</text>
<text x="478.5" y="996" font-size="32" font-weight="700" text-anchor="middle" stroke="#fff" stroke-width="6" stroke-linejoin="round" paint-order="stroke" fill="#000">Above</text>
<text x="793" y="572" font-size="42" font-weight="700" text-anchor="middle" stroke="#fff" stroke-width="7" stroke-linejoin="round" paint-order="stroke" fill="#000">Equal</text>
<text x="793" y="620" font-size="42" font-weight="700" text-anchor="middle" stroke="#fff" stroke-width="7" stroke-linejoin="round" paint-order="stroke" fill="#000">Chances</text>
<text x="641" y="1187.6" font-size="32.6" font-weight="700" text-anchor="middle" stroke="#fff" stroke-width="6" stroke-linejoin="round" paint-order="stroke" fill="#000">Equal</text>
<text x="640.7" y="1224.6" font-size="32.6" font-weight="700" text-anchor="middle" stroke="#fff" stroke-width="6" stroke-linejoin="round" paint-order="stroke" fill="#000">Chances</text>
<text x="185" y="1370.8" font-size="32.6" font-weight="700" text-anchor="middle" fill="#000">Equal</text>
<text x="184" y="1407.8" font-size="32.6" font-weight="700" text-anchor="middle" fill="#000">Chances</text>
<text x="918" y="78.5" font-size="83.5" text-anchor="middle" fill="#000">Seasonal Precipitation Outlook</text>
<text x="647.5" y="144.6" font-size="36.7" font-weight="700" text-anchor="start" fill="#000">Valid:</text>
<text x="766.3" y="144.6" font-size="37.2" text-anchor="start" fill="#000">Dec-Jan-Feb 2025-26</text>
<text x="645.5" y="185.6" font-size="36.7" font-weight="700" text-anchor="start" fill="#000">Issued:</text>
<text x="795.5" y="185.6" font-size="37.2" text-anchor="start" fill="#000">August 21, 2025</text>
<text x="1214" y="1056.6" font-size="29.5" font-weight="700" text-anchor="middle" fill="#000">Probability</text>
<text x="1214.5" y="1090.4" font-size="29.5" font-weight="700" text-anchor="middle" fill="#000">(Percent Chance)</text>
<text x="1075" y="1121.4" font-size="21.8" font-weight="700" text-anchor="middle" fill="#000">Above</text>
<text x="1075" y="1147.3" font-size="21.8" font-weight="700" text-anchor="middle" fill="#000">Normal</text>
<text x="1214.5" y="1118.6" font-size="21.8" font-weight="700" text-anchor="middle" fill="#000">Near</text>
<text x="1214.5" y="1144" font-size="21.8" font-weight="700" text-anchor="middle" fill="#000">Normal</text>
<text x="1363" y="1120" font-size="21.8" font-weight="700" text-anchor="middle" fill="#000">Below</text>
<text x="1363" y="1146" font-size="21.8" font-weight="700" text-anchor="middle" fill="#000">Normal</text>
<text x="1214.5" y="1277" font-size="21.8" font-weight="700" text-anchor="middle" fill="#000">Equal</text>
<text x="1214.5" y="1302.5" font-size="21.8" font-weight="700" text-anchor="middle" fill="#000">Chances</text>
<rect x="1001.5" y="1160.3" width="52" height="23" fill="#b8dcb0" stroke="#8a8a8a" stroke-width="1.2"/>
<text x="1066.8" y="1178.5" font-size="19.8" text-anchor="start" fill="#000">33-40%</text>
<rect x="1290.6" y="1158.6" width="52" height="23.8" fill="#f1d79a" stroke="#8a8a8a" stroke-width="1.6"/>
<text x="1354.5" y="1177.8" font-size="19.8" text-anchor="start" fill="#000">33-40%</text>
<rect x="1001.5" y="1196.6" width="52" height="23" fill="#a3d18c" stroke="#8a8a8a" stroke-width="1.2"/>
<text x="1066.8" y="1214.8" font-size="19.8" text-anchor="start" fill="#000">40-50%</text>
<rect x="1290.6" y="1195.2" width="52" height="23.8" fill="#dbad5e" stroke="#8a8a8a" stroke-width="1.6"/>
<text x="1354.5" y="1214.4" font-size="19.8" text-anchor="start" fill="#000">40-50%</text>
<rect x="1001.5" y="1232.7" width="52" height="23" fill="#6dbb45" stroke="#8a8a8a" stroke-width="1.2"/>
<text x="1066.8" y="1250.9" font-size="19.8" text-anchor="start" fill="#000">50-60%</text>
<rect x="1290.6" y="1231.3" width="52" height="23.8" fill="#c07a3a" stroke="#8a8a8a" stroke-width="1.6"/>
<text x="1354.5" y="1250.5" font-size="19.8" text-anchor="start" fill="#000">50-60%</text>
<rect x="1001.5" y="1268.5" width="52" height="23" fill="#3c9a3a" stroke="#8a8a8a" stroke-width="1.2"/>
<text x="1066.8" y="1286.7" font-size="19.8" text-anchor="start" fill="#000">60-70%</text>
<rect x="1290.6" y="1267.9" width="52" height="23.8" fill="#a05a36" stroke="#8a8a8a" stroke-width="1.6"/>
<text x="1354.5" y="1287.1000000000001" font-size="19.8" text-anchor="start" fill="#000">60-70%</text>
<rect x="1001.5" y="1304.5" width="52" height="23" fill="#2f7d2d" stroke="#8a8a8a" stroke-width="1.2"/>
<text x="1066.8" y="1322.7" font-size="19.8" text-anchor="start" fill="#000">70-80%</text>
<rect x="1290.6" y="1303.9" width="52" height="23.8" fill="#964a3c" stroke="#8a8a8a" stroke-width="1.6"/>
<text x="1354.5" y="1323.1000000000001" font-size="19.8" text-anchor="start" fill="#000">70-80%</text>
<rect x="1001.5" y="1340.6" width="52" height="23" fill="#3a6a22" stroke="#8a8a8a" stroke-width="1.2"/>
<text x="1066.8" y="1358.8" font-size="19.8" text-anchor="start" fill="#000">80-90%</text>
<rect x="1290.6" y="1340" width="52" height="23.8" fill="#824208" stroke="#8a8a8a" stroke-width="1.6"/>
<text x="1354.5" y="1359.2" font-size="19.8" text-anchor="start" fill="#000">80-90%</text>
<rect x="1001.5" y="1376.9" width="52" height="23" fill="#33591a" stroke="#8a8a8a" stroke-width="1.2"/>
<text x="1066.8" y="1395.1000000000001" font-size="19.8" text-anchor="start" fill="#000">90-100%</text>
<rect x="1290.6" y="1376.3" width="52" height="23.8" fill="#4f3030" stroke="#8a8a8a" stroke-width="1.6"/>
<text x="1354.5" y="1395.5" font-size="19.8" text-anchor="start" fill="#000">90-100%</text>
<rect x="1149" y="1156.6" width="52" height="24" fill="#dcdcdc" stroke="#8c8c8c" stroke-width="1.8"/>
<rect x="1149" y="1193.2" width="52" height="23.4" fill="#a2a2a2" stroke="#8c8c8c" stroke-width="1.8"/>
<text x="1208.9" y="1175" font-size="19.8" text-anchor="start" fill="#000">33-40%</text>
<text x="1208.9" y="1211.5" font-size="19.8" text-anchor="start" fill="#000">40-50%</text>
<rect x="1188" y="1315.5" width="52" height="22.8" fill="#fff" stroke="#8c8c8c" stroke-width="1.8"/>
<text x="904.8" y="1180.6" font-size="25.6" text-anchor="middle" fill="#000">Leaning</text>
<text x="904.8" y="1210" font-size="25.6" text-anchor="middle" fill="#000">Above</text>
<text x="904.8" y="1303" font-size="25.6" text-anchor="middle" fill="#000">Likely</text>
<text x="904.8" y="1332.7" font-size="25.6" text-anchor="middle" fill="#000">Above</text>
<text x="1526.6" y="1180.6" font-size="25.6" text-anchor="middle" fill="#000">Leaning</text>
<text x="1526.6" y="1209.6" font-size="25.6" text-anchor="middle" fill="#000">Below</text>
<text x="1526.6" y="1303" font-size="25.6" text-anchor="middle" fill="#000">Likely</text>
<text x="1526.6" y="1332.7" font-size="25.6" text-anchor="middle" fill="#000">Below</text>
<path d="M993.5,1158 C981.5,1158 974.5,1161.8125 974.5,1173.25 L974.5,1173.25 C974.5,1183.925 968.5,1187.5 955.5,1188.5 C968.5,1189.5 974.5,1193.075 974.5,1203.75 L974.5,1203.75 C974.5,1215.1875 981.5,1219 993.5,1219" fill="none" stroke="#111" stroke-width="1.3"/>
<path d="M993.5,1230 C981.5,1230 974.5,1237.5 974.5,1260 L974.5,1282.4 C974.5,1303.4 968.5,1311.4 955.5,1312.4 C968.5,1313.4 974.5,1321.4 974.5,1342.4 L974.5,1365 C974.5,1387.5 981.5,1395 993.5,1395" fill="none" stroke="#111" stroke-width="1.3"/>
<path d="M1439,1158.6 C1451,1158.6 1457.75,1162.375 1457.75,1173.6999999999998 L1457.75,1173.4 C1457.75,1183.97 1463.75,1187.5 1476.5,1188.5 C1463.75,1189.5 1457.75,1193.03 1457.75,1203.6 L1457.75,1203.9 C1457.75,1215.225 1451,1219 1439,1219" fill="none" stroke="#111" stroke-width="1.3"/>
<path d="M1439,1230 C1451,1230 1458.0,1237.5 1458.0,1260 L1458.0,1281.5 C1458.0,1302.5 1464.0,1310.5 1477,1311.5 C1464.0,1312.5 1458.0,1320.5 1458.0,1341.5 L1458.0,1363 C1458.0,1385.5 1451,1393 1439,1393" fill="none" stroke="#111" stroke-width="1.3"/>
<rect x="0" y="0" width="1" height="1420" fill="#000"/>
<rect x="0" y="1416" width="1031" height="4" fill="#b4b4b4"/>
<rect x="1031" y="1416" width="465" height="4" fill="#767676"/>
<rect x="1496" y="1416" width="338" height="4" fill="#1e1e1e"/>
<g>
<circle cx="176.0" cy="56.4" r="52" fill="#2d8ed1" stroke="#1b5fa8" stroke-width="0.8"/>
<circle cx="176.0" cy="56.4" r="39.7" fill="#fff" stroke="#1b5fa8" stroke-width="0.8"/>
<defs><path id="sealtop" d="M133.99,48.23 A42.8,42.8 0 0 1 218.01,48.23"/><path id="sealbot" d="M128.32,70.07 A49.6,49.6 0 0 0 223.68,70.07"/></defs>
<text font-size="8.6" font-weight="700" fill="#fff" letter-spacing="0.1"><textPath href="#sealtop" startOffset="50%" text-anchor="middle" textLength="116" lengthAdjust="spacingAndGlyphs">DEPARTMENT OF COMMERCE</textPath></text>
<text font-size="8.6" font-weight="700" fill="#fff" letter-spacing="0.1"><textPath href="#sealbot" startOffset="50%" text-anchor="middle" textLength="133" lengthAdjust="spacingAndGlyphs">UNITED STATES OF AMERICA</textPath></text>
<text x="130.2" y="58.6" font-size="6" fill="#fff" text-anchor="middle">★</text>
<text x="221.8" y="59.0" font-size="6" fill="#fff" text-anchor="middle">★</text>
<path d="M153.6,47.6 L198.6,47.6 C197.6,49.5 196.6,50.5 196.6,52.5 L196.6,80 C196.6,85 186,90 176,93.9 C166,90 156,85 156,80 L156,52.5 C156,50.5 155,49.5 153.6,47.6Z" fill="#f2bf3a" stroke="#1a1a2a" stroke-width="1.2"/>
<path d="M153.6,47.6 L198.6,47.6 C197.6,49.5 196.6,50.5 196.6,52.5 L196.6,68.8 L156,68.8 L156,52.5 C156,50.5 155,49.5 153.6,47.6Z" fill="#2d8ed1" stroke="#1a1a2a" stroke-width="1.2"/>
<rect x="156.5" y="64.6" width="39.6" height="4.2" fill="#123a7a"/>
<path d="M160,61 L164,64.8 L186,64.8 L189,62.5 L176,63 Z" fill="#111"/>
<path d="M162,60.5 L172,54 L172,60.5Z M173,60.5 L173,51.5 L178,51.5 L178,60.5Z M179.5,60.5 L179.5,50.5 L184,50.5 L184,60.5Z M185.5,61 L185.5,52 L189,52 L190,61Z" fill="#fff" stroke="#111" stroke-width="0.5"/>
<path d="M173,54.5 L178,54.5 M173,57.5 L178,57.5 M179.5,53.8 L184,53.8 M179.5,57 L184,57 M185.5,55 L189.4,55 M185.5,58 L189.7,58" stroke="#111" stroke-width="0.7" fill="none"/>
<rect x="174" y="69.5" width="4.2" height="20" fill="#222"/>
<path d="M170.5,89.2 L181.8,89.2 L176,93.2Z" fill="#222"/>
<circle cx="176.1" cy="72.6" r="1.2" fill="#fff"/>
<path d="M163.2,22 C163.8,29 167.5,36.5 173.6,41.5 L174.4,32 C172.4,27.5 168,24 163.2,22Z" fill="#4a2f10"/><path d="M166,26 C167.5,31 170,35 173.5,38.5" stroke="#b07a1e" stroke-width="1" fill="none"/>
<path d="M191.2,22 C190.6,29 186.5,36.5 178.8,41.5 L178,32 C180.2,27.5 186,24 191.2,22Z" fill="#4a2f10"/><path d="M188.3,26 C186.8,31 183.5,35 179.5,38.5" stroke="#b07a1e" stroke-width="1" fill="none"/>
<path d="M173.8,31 C173.8,28.5 178.6,28.5 178.6,31 L179,43.5 L173.4,43.5Z" fill="#c8901e" stroke="#3a250a" stroke-width="0.6"/>
<ellipse cx="176.2" cy="30.2" rx="2.6" ry="2.1" fill="#eee" stroke="#333" stroke-width="0.5"/>
<path d="M168.3,44.1 L185.8,44.1 L185.8,45.6 L168.3,45.6Z" fill="#222"/>
</g>
<g><clipPath id="ncl"><circle cx="1660.0" cy="56.3" r="52.1"/></clipPath>
<g clip-path="url(#ncl)">
<rect x="1600" y="0" width="125" height="115" fill="#fff"/>
<path d="M1617.3,25.9 C1618.3,26.7 1621.2,28.6 1623.3,30.8 C1625.4,32.9 1627.5,35.9 1629.8,38.9 C1632.1,41.8 1634.5,45.3 1637.1,48.6 C1639.7,51.8 1642.5,55.7 1645.2,58.3 C1647.9,60.9 1650.6,62.6 1653.3,64.0 C1656.0,65.4 1659.0,66.7 1661.4,66.8 C1663.8,66.9 1665.7,66.2 1667.9,64.8 C1670.0,63.4 1672.2,61.0 1674.4,58.3 C1676.5,55.6 1678.8,51.8 1680.8,48.6 C1682.9,45.3 1684.6,41.7 1686.5,38.9 C1688.4,36.0 1690.4,33.5 1692.2,31.6 C1693.9,29.6 1695.4,28.3 1697.0,27.1 C1698.6,25.9 1701.1,24.8 1701.9,24.3 L1716.5,-10 L1603.1,-10 Z" fill="#1b3a8f"/>
<path d="M1603.1,40.5 C1604.1,40.8 1607.4,41.7 1609.2,42.1 C1610.9,42.5 1611.9,41.8 1613.6,42.9 C1615.3,44.0 1617.0,46.3 1619.3,48.6 C1621.6,50.9 1624.7,54.3 1627.4,56.7 C1630.1,59.1 1632.8,61.4 1635.5,63.2 C1638.2,64.9 1640.9,66.1 1643.6,67.2 C1646.3,68.3 1649.4,69.1 1651.7,69.6 C1654.0,70.2 1657.3,69.9 1657.3,70.4 C1657.3,71.0 1653.8,71.9 1651.7,72.9 C1649.5,73.8 1645.1,75.3 1644.4,76.1 C1643.7,76.9 1646.0,77.5 1647.6,77.7 C1649.3,78.0 1652.1,78.1 1654.1,77.7 C1656.1,77.3 1657.8,76.2 1659.8,75.3 C1661.8,74.4 1664.1,73.1 1666.3,72.1 C1668.4,71.1 1670.4,69.9 1672.7,69.2 C1675.0,68.6 1678.3,68.3 1680.0,68.0 C1681.8,67.7 1683.4,67.9 1683.3,67.6 C1683.1,67.3 1681.0,66.3 1679.2,66.0 C1677.5,65.7 1674.2,65.6 1672.7,65.6 C1671.2,65.6 1669.8,66.4 1670.3,66.0 C1670.8,65.6 1673.7,64.4 1676.0,63.2 C1678.3,61.9 1681.4,60.3 1684.1,58.3 C1686.8,56.3 1689.6,53.7 1692.2,51.0 C1694.7,48.3 1697.6,44.5 1699.5,42.1 C1701.3,39.7 1702.3,37.9 1703.5,36.4 C1704.7,35.0 1704.6,34.1 1706.7,33.2 C1708.9,32.3 1714.8,31.2 1716.5,30.8 L1716.5,120 L1603.1,120 Z" fill="#3a8fd0"/>
</g>
<text x="1659.9" y="38" font-size="17.5" font-weight="700" fill="#fff" text-anchor="middle" textLength="42" lengthAdjust="spacingAndGlyphs" font-family="'DejaVu Sans','Liberation Sans',sans-serif" transform="translate(0,0)">NOAA</text>
</g>
</svg>
</body></html>
